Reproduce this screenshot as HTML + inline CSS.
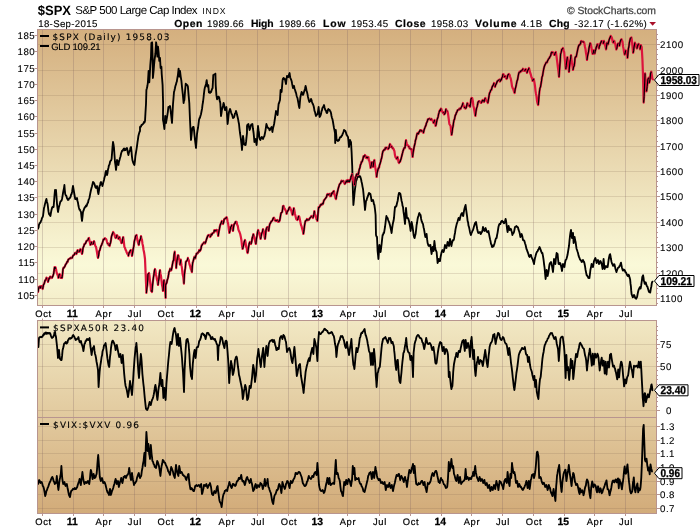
<!DOCTYPE html>
<html><head><meta charset="utf-8"><title>$SPX</title>
<style>
html,body{margin:0;padding:0;background:#fff;}
svg{display:block;font-family:"Liberation Sans",sans-serif;text-rendering:geometricPrecision;}
.ax{font-size:9.7px;letter-spacing:.5px;fill:#000;stroke:#000;stroke-width:.1px;}
.ax2{font-size:9.5px;fill:#000;stroke:#000;stroke-width:.15px;}
.mo{font-size:9.4px;letter-spacing:.7px;fill:#000;text-anchor:middle;stroke:#000;stroke-width:.2px;}
.yr{font-size:10.4px;font-weight:bold;fill:#000;text-anchor:middle;stroke:#000;stroke-width:.25px;}
.lg{font-family:"DejaVu Sans","Liberation Sans",sans-serif;font-size:8.9px;fill:#000;stroke:#000;stroke-width:.15px;}
.hb{font-size:10.4px;font-weight:bold;fill:#000;stroke:#000;stroke-width:.2px;}
.hn{font-size:9.7px;fill:#000;stroke:#000;stroke-width:.12px;}
.vl{font-size:11.4px;font-weight:bold;fill:#000;stroke:#000;stroke-width:.3px;}
</style></head><body>
<svg width="700" height="530" viewBox="0 0 700 530">
<defs>
<linearGradient id="bg" gradientUnits="userSpaceOnUse" x1="0" y1="29" x2="0" y2="514">
<stop offset="0" stop-color="rgb(212,175,126)"/>
<stop offset="0.4866" stop-color="rgb(250,249,216)"/>
<stop offset="1" stop-color="rgb(210,171,121)"/>
</linearGradient>
<clipPath id="c1"><rect x="37.5" y="29.5" width="619.0" height="276.0"/></clipPath>
<clipPath id="c2"><rect x="37.5" y="320.5" width="619.0" height="97.0"/></clipPath>
<clipPath id="c3"><rect x="37.5" y="417.5" width="619.0" height="96.0"/></clipPath>
</defs>
<rect width="700" height="530" fill="#fff"/>

<rect x="37.5" y="29.5" width="619.0" height="276.0" fill="url(#bg)"/>
<rect x="37.5" y="320.5" width="619.0" height="193.0" fill="url(#bg)"/>
<path d="M42.5,29.5V305.5M42.5,320.5V513.5M73.5,29.5V305.5M73.5,320.5V513.5M103.5,29.5V305.5M103.5,320.5V513.5M134.5,29.5V305.5M134.5,320.5V513.5M165.5,29.5V305.5M165.5,320.5V513.5M196.5,29.5V305.5M196.5,320.5V513.5M226.5,29.5V305.5M226.5,320.5V513.5M257.5,29.5V305.5M257.5,320.5V513.5M288.5,29.5V305.5M288.5,320.5V513.5M318.5,29.5V305.5M318.5,320.5V513.5M347.5,29.5V305.5M347.5,320.5V513.5M379.5,29.5V305.5M379.5,320.5V513.5M410.5,29.5V305.5M410.5,320.5V513.5M441.5,29.5V305.5M441.5,320.5V513.5M471.5,29.5V305.5M471.5,320.5V513.5M502.5,29.5V305.5M502.5,320.5V513.5M533.5,29.5V305.5M533.5,320.5V513.5M564.5,29.5V305.5M564.5,320.5V513.5M594.5,29.5V305.5M594.5,320.5V513.5M625.5,29.5V305.5M625.5,320.5V513.5" stroke="rgb(120,92,95)" stroke-opacity=".25" stroke-width="1" fill="none"/>
<path d="M37.5,298.5H656.5M37.5,273.5H656.5M37.5,247.5H656.5M37.5,222.5H656.5M37.5,196.5H656.5M37.5,171.5H656.5M37.5,146.5H656.5M37.5,120.5H656.5M37.5,95.5H656.5M37.5,70.5H656.5M37.5,44.5H656.5M37.5,410.5H656.5M37.5,388.5H656.5M37.5,366.5H656.5M37.5,344.5H656.5M37.5,508.5H656.5M37.5,494.5H656.5M37.5,481.5H656.5M37.5,467.5H656.5M37.5,453.5H656.5M37.5,440.5H656.5M37.5,426.5H656.5" stroke="rgb(125,100,80)" stroke-opacity=".19" stroke-width="1" fill="none"/>
<g clip-path="url(#c1)">
<path d="M37.6,229.0 L38.1,228.5 L38.6,227.3 L39.0,224.7 L39.5,223.5 L40.0,223.0 L40.5,222.4 L41.0,221.0 L41.5,219.8 L42.0,218.0 L42.5,217.3 L43.0,216.0 L43.5,212.2 L44.0,208.0 L44.5,206.3 L45.0,203.9 L45.4,202.5 L45.9,200.6 L46.4,199.0 L47.0,201.9 L47.6,204.0 L48.1,208.1 L48.5,211.4 L49.0,214.0 L49.5,214.7 L49.9,215.2 L50.4,216.0 L50.9,213.0 L51.5,209.9 L52.0,208.0 L52.5,206.9 L53.1,207.3 L53.6,207.0 L54.1,201.0 L54.5,195.5 L55.0,190.0 L55.5,190.6 L56.0,190.0 L56.5,197.0 L57.0,204.0 L57.5,208.1 L58.0,212.0 L58.5,209.3 L59.0,206.7 L59.5,205.0 L60.0,203.0 L60.5,201.4 L61.0,201.0 L61.5,200.8 L62.0,199.0 L62.5,196.3 L63.1,192.5 L63.6,190.0 L64.0,188.1 L64.4,185.0 L64.8,190.0 L65.2,194.0 L65.8,195.4 L66.4,196.0 L66.9,198.0 L67.5,199.1 L68.0,200.0 L68.5,199.8 L69.1,198.4 L69.6,198.0 L70.1,197.8 L70.6,196.7 L71.1,194.5 L71.6,194.0 L72.1,191.7 L72.5,189.0 L73.0,186.0 L73.5,188.9 L74.0,192.0 L74.6,195.5 L75.2,199.0 L75.7,198.7 L76.1,199.2 L76.5,198.3 L77.0,198.0 L77.5,201.0 L78.0,202.8 L78.5,206.1 L79.0,208.0 L79.5,209.6 L80.0,209.9 L80.5,211.1 L81.0,212.0 L81.5,217.2 L82.0,221.0 L82.5,216.9 L83.0,212.0 L83.5,210.7 L84.0,209.1 L84.5,208.0 L85.0,207.0 L85.5,206.8 L86.0,205.5 L86.5,206.2 L87.0,205.0 L87.5,203.1 L88.0,202.7 L88.5,200.2 L89.0,199.0 L89.5,197.5 L90.0,194.8 L90.5,192.3 L91.0,190.0 L91.5,188.0 L92.0,186.2 L92.5,184.1 L93.0,182.0 L93.5,182.4 L93.9,182.9 L94.4,184.0 L94.9,185.4 L95.5,187.4 L96.0,188.0 L96.5,187.2 L97.0,186.0 L97.5,188.0 L97.9,191.8 L98.4,194.0 L99.0,190.4 L99.6,186.0 L100.1,185.3 L100.5,182.8 L101.0,182.0 L101.5,183.7 L101.9,184.0 L102.4,186.0 L102.9,184.2 L103.5,181.6 L104.0,180.0 L104.5,177.3 L105.0,176.1 L105.5,172.6 L106.0,171.0 L106.5,173.0 L107.0,175.0 L107.5,173.2 L107.9,169.9 L108.4,168.0 L108.9,165.5 L109.5,164.6 L110.0,162.0 L110.5,160.9 L111.1,160.3 L111.6,159.0 L112.1,152.6 L112.5,147.4 L113.0,142.0 L113.5,144.5 L114.0,148.0 L114.5,155.3 L115.0,162.0 L115.5,165.3 L116.0,170.0 L116.5,165.7 L117.0,160.0 L117.5,160.9 L117.9,163.7 L118.4,165.0 L118.9,161.9 L119.5,159.9 L120.0,158.0 L120.5,156.5 L121.1,153.5 L121.6,152.0 L122.1,150.7 L122.6,150.8 L123.1,149.6 L123.6,149.0 L124.1,148.5 L124.6,150.3 L125.1,149.2 L125.6,150.0 L126.1,148.6 L126.5,148.4 L127.0,148.0 L127.5,150.5 L127.9,153.1 L128.4,155.0 L128.9,152.7 L129.5,151.4 L130.0,150.0 L130.5,147.7 L131.0,147.0 L131.5,151.3 L131.9,156.1 L132.4,160.0 L132.9,161.6 L133.4,163.1 L133.9,164.2 L134.4,165.0 L134.9,161.1 L135.4,156.0 L135.9,153.0 L136.5,149.3 L137.0,146.0 L137.5,142.2 L137.9,139.6 L138.4,136.0 L138.9,134.0 L139.5,132.0 L140.0,131.0 L140.0,127.0 L140.5,126.4 L141.0,126.6 L141.5,124.9 L142.0,125.1 L142.5,124.3 L143.0,124.0 L143.5,123.3 L144.0,121.9 L144.5,122.5 L145.0,121.0 L145.5,112.1 L146.0,104.0 L146.4,90.0 L146.9,88.2 L147.4,86.0 L147.9,82.3 L148.6,70.9 L149.3,82.3 L149.8,73.6 L150.3,65.1 L151.0,56.6 L151.4,43.0 L152.1,42.3 L152.6,56.6 L152.9,78.0 L153.6,70.9 L154.1,64.4 L154.6,59.4 L155.0,56.7 L155.4,53.7 L156.1,42.3 L156.9,48.0 L157.4,56.6 L158.0,46.6 L158.6,52.3 L159.3,60.9 L160.0,58.0 L160.6,68.0 L161.0,66.7 L161.4,66.6 L161.7,73.7 L162.1,78.7 L162.6,85.1 L163.1,103.0 L163.0,120.0 L163.5,122.3 L163.9,125.5 L164.4,129.0 L164.8,121.9 L165.2,116.0 L165.6,119.7 L166.0,123.0 L166.6,119.5 L167.2,116.0 L167.8,112.3 L168.4,107.0 L168.9,107.4 L169.5,107.1 L170.0,106.0 L170.5,109.6 L171.0,114.0 L171.5,118.4 L172.0,123.0 L172.5,113.1 L173.0,104.0 L173.5,98.1 L174.0,92.0 L174.5,90.2 L174.9,88.5 L175.4,86.0 L175.9,84.7 L176.5,82.3 L177.0,81.0 L176.9,80.9 L177.4,77.9 L177.9,75.1 L178.6,68.7 L179.0,72.7 L179.4,76.6 L180.0,70.9 L180.7,76.6 L181.4,80.9 L182.1,88.0 L182.9,95.1 L183.6,103.0 L184.0,100.7 L184.4,100.0 L185.0,91.8 L185.6,85.0 L185.7,83.7 L186.3,84.3 L186.9,85.1 L187.4,85.2 L187.9,86.6 L188.6,95.1 L189.3,103.0 L190.0,120.0 L190.5,130.4 L191.0,140.0 L191.5,135.6 L191.9,131.4 L192.4,128.0 L193.0,127.0 L193.6,127.0 L194.1,130.9 L194.5,135.2 L195.0,140.0 L195.5,144.0 L196.0,148.0 L196.5,140.9 L197.0,134.0 L197.5,130.7 L198.0,128.0 L198.5,124.2 L199.0,120.0 L199.5,118.2 L199.9,118.0 L200.4,116.0 L201.0,114.2 L201.6,111.0 L202.1,108.4 L202.5,104.9 L203.0,102.0 L203.5,98.0 L203.9,94.1 L204.4,90.0 L204.9,87.3 L205.5,85.9 L206.0,84.0 L206.7,80.1 L207.4,86.6 L207.9,85.9 L208.3,85.1 L208.9,92.3 L209.4,92.1 L210.0,93.0 L210.5,91.6 L211.0,92.1 L211.4,90.9 L212.0,89.2 L212.6,88.0 L213.3,75.1 L213.8,74.8 L214.3,74.4 L214.9,74.7 L215.4,73.7 L215.7,85.1 L216.4,95.1 L217.1,99.4 L217.7,98.2 L218.3,96.6 L218.8,96.9 L219.3,98.0 L219.8,101.3 L220.3,103.0 L221.0,116.0 L221.5,113.1 L221.9,109.9 L222.4,108.0 L223.0,105.8 L223.6,103.0 L224.1,104.7 L224.5,107.4 L225.0,110.0 L225.5,109.5 L225.9,108.3 L226.4,107.0 L227.0,114.7 L227.6,124.0 L228.1,119.9 L228.5,115.9 L229.0,112.0 L229.5,110.5 L230.0,109.0 L230.5,110.2 L231.1,112.5 L231.6,114.0 L232.1,114.7 L232.5,116.3 L233.0,118.0 L233.5,117.1 L233.9,117.4 L234.4,116.0 L234.9,113.7 L235.5,113.1 L236.0,111.0 L236.5,112.5 L237.1,115.1 L237.6,117.0 L238.1,119.2 L238.5,121.6 L239.0,124.0 L239.5,128.9 L240.0,133.0 L240.5,136.3 L241.0,140.0 L241.5,144.4 L242.0,150.0 L242.5,142.4 L243.0,136.0 L243.5,139.3 L244.0,144.0 L244.5,144.9 L245.1,144.9 L245.6,145.0 L246.1,141.7 L246.5,137.3 L247.0,133.0 L247.0,126.0 L247.5,124.6 L247.9,124.9 L248.4,124.0 L249.0,127.4 L249.6,130.0 L250.1,128.7 L250.5,126.7 L251.0,125.0 L251.5,124.4 L251.9,124.3 L252.4,124.0 L253.0,129.0 L253.6,133.0 L254.0,137.1 L254.4,142.0 L255.0,140.5 L255.6,139.0 L256.1,142.0 L256.6,145.0 L257.1,139.4 L257.5,132.8 L258.0,126.0 L258.0,126.0 L258.5,130.2 L259.0,133.0 L259.2,137.0 L259.8,139.0 L260.4,140.0 L261.0,138.2 L261.6,137.0 L262.1,137.2 L262.5,138.3 L263.0,139.0 L263.5,137.6 L263.9,136.9 L264.4,136.0 L265.0,133.0 L265.5,130.3 L265.9,127.7 L266.4,124.0 L266.9,125.5 L267.5,127.2 L268.0,128.0 L268.5,127.9 L269.0,128.8 L269.5,130.3 L270.0,130.0 L270.5,128.4 L271.1,127.9 L271.6,127.0 L272.0,128.8 L272.4,132.0 L273.0,128.3 L273.6,126.0 L274.1,124.0 L274.5,121.4 L275.0,118.0 L275.5,114.7 L276.0,111.0 L276.5,111.7 L277.1,113.3 L277.6,115.0 L278.1,109.1 L278.6,104.0 L279.1,102.9 L279.5,101.6 L280.0,100.0 L280.6,90.0 L281.1,90.9 L281.6,92.0 L282.1,86.0 L282.6,80.0 L283.1,78.4 L283.6,78.0 L284.1,78.4 L284.5,79.4 L285.0,79.0 L285.5,81.9 L286.0,84.0 L286.5,79.4 L287.0,76.0 L287.5,76.4 L287.9,77.0 L288.4,77.0 L289.0,74.6 L289.6,73.0 L290.0,76.1 L290.4,78.0 L291.0,79.4 L291.6,81.0 L292.1,83.7 L292.5,85.5 L293.0,88.0 L293.5,87.8 L294.0,86.0 L294.5,88.5 L295.1,90.1 L295.6,92.0 L296.1,93.1 L296.5,95.2 L297.0,97.0 L297.5,98.2 L298.0,101.0 L298.5,103.5 L298.9,106.3 L299.4,108.0 L299.9,102.0 L300.4,97.0 L301.0,94.5 L301.6,92.0 L302.1,93.0 L302.5,93.8 L303.0,95.0 L303.5,93.8 L304.0,92.0 L304.5,90.7 L305.1,88.3 L305.6,86.0 L306.1,88.0 L306.5,90.7 L307.0,92.0 L307.5,94.2 L308.0,97.0 L308.5,99.1 L308.9,100.6 L309.4,102.0 L309.9,101.4 L310.5,100.6 L311.0,99.0 L311.5,100.1 L312.0,102.0 L312.5,103.5 L313.1,104.5 L313.6,106.0 L314.1,108.3 L314.5,110.8 L315.0,112.0 L315.5,114.2 L316.0,116.0 L316.5,114.6 L317.1,114.6 L317.6,114.0 L318.1,110.8 L318.6,107.0 L319.1,112.6 L319.6,117.0 L320.1,116.2 L320.5,115.5 L321.0,114.0 L321.5,111.2 L321.9,110.7 L322.4,108.0 L322.9,107.4 L323.5,106.2 L324.0,105.0 L324.5,107.3 L324.9,108.9 L325.4,110.0 L325.9,110.4 L326.5,112.5 L327.0,113.0 L327.5,112.1 L327.9,109.9 L328.4,109.0 L329.0,109.9 L329.6,110.0 L330.1,111.1 L330.5,111.5 L331.0,113.0 L331.5,116.0 L332.0,118.0 L332.5,119.4 L333.0,122.0 L333.5,125.2 L334.0,128.0 L334.5,130.4 L335.0,133.0 L335.2,143.0 L335.8,130.0 L336.2,134.6 L336.6,140.0 L337.1,140.4 L337.5,140.6 L338.0,141.0 L338.5,139.9 L338.9,140.4 L339.4,139.0 L339.9,137.6 L340.5,136.9 L341.0,137.0 L341.5,136.0 L342.1,135.5 L342.6,134.0 L343.1,132.9 L343.5,131.7 L344.0,130.0 L344.5,130.3 L344.9,130.9 L345.4,131.0 L346.0,132.7 L346.6,135.0 L347.1,135.3 L347.5,136.3 L348.0,137.0 L348.5,141.2 L349.0,147.0 L349.5,142.8 L350.0,140.0 L350.5,141.4 L351.0,142.0 L351.6,152.0 L352.2,166.0 L352.6,180.0 L353.0,194.0 L353.4,205.0 L354.0,199.0 L354.5,193.5 L355.0,189.0 L355.5,185.4 L356.0,181.0 L356.5,180.1 L357.1,178.2 L357.6,177.0 L358.1,176.9 L358.5,176.8 L359.0,176.0 L359.5,176.9 L359.9,176.1 L360.4,177.0 L361.0,179.0 L361.6,182.0 L362.1,184.1 L362.5,186.6 L363.0,189.0 L363.5,193.7 L364.0,199.0 L364.5,203.7 L365.0,210.0 L365.5,205.6 L366.0,201.0 L366.5,200.4 L367.1,198.1 L367.6,197.0 L368.1,195.7 L368.5,194.1 L369.0,193.0 L369.5,193.2 L369.9,194.3 L370.4,194.0 L371.0,197.2 L371.6,201.0 L372.1,200.9 L372.5,200.3 L373.0,200.0 L373.5,201.7 L373.9,204.0 L374.4,205.0 L375.0,209.3 L375.6,215.0 L376.0,235.0 L376.5,236.5 L377.0,237.0 L377.6,251.0 L378.0,254.7 L378.4,259.0 L378.9,252.2 L379.4,245.0 L380.0,249.0 L380.6,252.0 L381.1,248.2 L381.6,244.0 L382.1,239.3 L382.6,235.0 L383.1,234.9 L383.5,233.0 L384.0,233.0 L384.5,230.2 L385.0,227.0 L385.5,223.2 L385.9,219.7 L386.4,216.0 L387.0,217.6 L387.6,218.0 L388.1,219.8 L388.5,220.9 L389.0,222.0 L389.5,223.4 L389.9,224.9 L390.4,227.0 L391.0,229.9 L391.6,233.0 L392.1,228.6 L392.6,225.0 L393.1,222.3 L393.5,221.1 L394.0,218.0 L394.5,211.9 L395.0,207.0 L395.5,207.2 L395.9,206.1 L396.4,206.0 L397.0,203.3 L397.6,201.0 L398.1,198.0 L398.5,195.0 L399.0,193.0 L399.5,193.3 L399.9,193.1 L400.4,194.0 L401.0,197.4 L401.6,201.0 L402.1,202.7 L402.5,205.6 L403.0,207.0 L403.5,211.7 L404.0,215.0 L404.5,219.4 L405.0,224.0 L405.5,216.2 L406.0,208.0 L406.5,213.7 L407.0,218.0 L407.5,218.1 L407.9,218.0 L408.4,219.0 L409.0,221.1 L409.6,224.0 L410.1,227.0 L410.6,231.0 L411.1,226.8 L411.6,222.0 L412.1,224.3 L412.6,227.0 L413.1,230.8 L413.6,235.0 L414.1,237.0 L414.6,238.0 L415.1,235.6 L415.6,234.0 L416.1,230.0 L416.6,225.0 L417.1,222.5 L417.5,219.5 L418.0,217.0 L418.5,216.2 L418.9,214.1 L419.4,213.0 L420.0,214.6 L420.6,215.0 L421.1,218.7 L421.6,221.0 L422.1,222.0 L422.5,223.3 L423.0,224.0 L423.5,227.2 L424.0,229.0 L424.5,232.1 L424.9,234.7 L425.4,237.0 L426.0,236.1 L426.6,234.0 L427.1,239.2 L427.6,243.0 L428.1,244.4 L428.5,245.8 L429.0,246.0 L429.5,245.3 L429.9,245.5 L430.4,245.0 L431.0,249.8 L431.6,254.0 L432.1,250.3 L432.6,247.0 L433.1,248.8 L433.6,251.0 L434.0,245.5 L434.4,241.0 L435.0,246.2 L435.6,250.0 L436.1,250.8 L436.6,252.0 L437.1,257.5 L437.6,263.0 L438.1,261.6 L438.6,259.0 L439.1,259.2 L439.5,261.1 L440.0,261.0 L440.5,257.4 L441.0,255.0 L441.5,252.6 L441.9,251.4 L442.4,250.0 L443.0,250.8 L443.6,252.0 L444.1,250.3 L444.5,247.9 L445.0,245.0 L445.5,246.4 L445.9,246.9 L446.4,248.0 L447.0,245.1 L447.6,242.0 L448.1,242.9 L448.5,245.2 L449.0,246.0 L449.5,242.3 L450.0,239.0 L450.5,241.0 L450.9,243.9 L451.4,246.0 L452.0,242.9 L452.6,241.0 L453.1,240.0 L453.5,240.3 L454.0,239.0 L454.5,235.4 L455.0,233.0 L455.5,229.4 L456.0,227.0 L456.5,224.9 L456.9,223.3 L457.4,222.0 L458.0,219.9 L458.6,218.0 L459.1,218.6 L459.6,220.0 L460.1,217.7 L460.6,216.0 L461.1,214.6 L461.5,213.6 L462.0,213.0 L462.6,214.7 L463.2,216.0 L463.8,212.2 L464.4,209.0 L465.0,206.8 L465.6,205.0 L466.1,209.4 L466.6,213.0 L467.1,216.3 L467.6,221.0 L468.1,222.4 L468.5,225.6 L469.0,227.0 L469.5,229.4 L470.0,232.0 L470.5,233.9 L471.0,235.0 L471.5,233.1 L471.9,232.4 L472.4,231.0 L473.0,230.1 L473.6,228.0 L474.1,226.1 L474.5,225.1 L475.0,223.0 L475.5,222.7 L476.0,222.0 L476.6,225.3 L477.2,229.0 L477.8,231.8 L478.4,233.0 L478.9,232.5 L479.5,232.3 L480.0,232.0 L480.6,234.0 L481.1,233.5 L481.5,232.4 L482.0,232.0 L482.5,230.0 L483.0,227.0 L483.5,228.5 L483.9,229.8 L484.4,231.0 L485.0,229.6 L485.6,228.0 L486.1,230.1 L486.5,231.4 L487.0,232.0 L487.5,232.2 L487.9,231.3 L488.4,231.0 L489.0,233.9 L489.6,237.0 L490.1,239.4 L490.5,240.9 L491.0,244.0 L491.5,244.4 L491.9,246.8 L492.4,247.0 L492.9,245.7 L493.5,246.4 L494.0,245.0 L494.5,243.6 L494.9,242.3 L495.4,240.0 L496.0,238.3 L496.6,238.0 L497.1,235.0 L497.5,233.1 L498.0,230.0 L498.5,226.7 L499.0,225.0 L499.5,224.0 L499.9,224.1 L500.4,224.0 L501.0,222.0 L501.6,221.0 L502.1,220.8 L502.5,221.9 L503.0,222.0 L503.5,221.7 L503.9,223.4 L504.4,223.0 L505.0,221.2 L505.6,219.0 L506.1,221.3 L506.6,225.0 L507.1,229.1 L507.6,232.0 L508.1,228.6 L508.6,226.0 L509.1,228.0 L509.6,230.0 L510.1,229.8 L510.5,228.8 L511.0,229.0 L511.5,231.0 L511.9,232.3 L512.4,235.0 L513.0,233.5 L513.6,233.0 L514.1,231.7 L514.5,229.5 L515.0,227.0 L515.5,226.7 L515.9,226.6 L516.4,226.0 L517.0,227.1 L517.6,227.0 L518.1,227.8 L518.5,229.7 L519.0,231.0 L519.5,232.4 L519.9,234.4 L520.4,237.0 L521.0,234.9 L521.6,234.0 L522.1,235.5 L522.5,237.3 L523.0,240.0 L523.5,239.9 L523.9,240.5 L524.4,241.0 L525.0,243.2 L525.6,245.0 L526.1,247.2 L526.5,249.0 L527.0,250.0 L527.5,251.7 L527.9,252.7 L528.4,254.0 L529.0,256.2 L529.6,257.0 L530.1,255.8 L530.5,255.0 L531.0,255.0 L531.5,256.8 L531.9,257.9 L532.4,259.0 L532.9,260.2 L533.5,262.1 L534.0,264.0 L534.5,260.7 L535.0,258.0 L535.5,256.2 L535.9,254.6 L536.4,253.0 L536.9,251.8 L537.5,251.5 L538.0,250.0 L538.5,249.5 L539.1,248.1 L539.6,247.0 L540.1,248.3 L540.5,249.3 L541.0,251.0 L541.5,252.1 L541.9,253.1 L542.4,253.0 L543.0,256.1 L543.6,260.0 L544.1,264.3 L544.6,268.0 L545.1,273.8 L545.6,279.0 L546.1,274.8 L546.6,270.0 L547.1,272.2 L547.6,276.0 L548.1,273.6 L548.6,271.0 L549.1,267.0 L549.6,264.0 L550.1,262.8 L550.5,262.8 L551.0,262.0 L551.5,264.2 L552.0,266.0 L552.5,269.2 L553.0,272.0 L553.5,265.9 L554.0,259.0 L554.5,261.0 L554.9,262.3 L555.4,264.0 L556.0,257.8 L556.6,253.0 L557.1,253.9 L557.6,254.0 L558.1,259.5 L558.6,264.0 L559.1,264.2 L559.5,263.5 L560.0,263.0 L560.5,263.8 L561.0,266.0 L561.5,268.0 L562.0,271.0 L562.5,266.9 L563.0,264.0 L563.5,265.2 L563.9,266.1 L564.4,267.0 L565.0,263.0 L565.6,260.0 L566.1,259.7 L566.5,258.8 L567.0,257.0 L567.5,255.1 L568.0,252.0 L568.5,248.9 L569.0,246.0 L569.5,240.7 L570.0,236.0 L570.5,232.5 L571.0,230.0 L571.5,234.5 L572.0,238.0 L572.5,235.8 L573.0,233.0 L573.6,243.0 L574.1,239.6 L574.6,237.0 L575.1,240.1 L575.6,242.0 L576.1,245.6 L576.6,249.0 L577.1,250.2 L577.5,251.5 L578.0,253.0 L578.5,255.4 L579.0,257.0 L579.5,257.9 L579.9,259.3 L580.4,260.0 L581.0,260.4 L581.6,262.0 L582.1,261.7 L582.5,260.3 L583.0,260.0 L583.5,261.7 L583.9,261.5 L584.4,263.0 L585.0,266.2 L585.6,270.0 L586.1,272.6 L586.6,275.0 L587.1,275.5 L587.5,276.4 L588.0,277.0 L588.5,278.0 L588.9,277.2 L589.4,278.0 L589.9,274.4 L590.4,270.0 L591.0,267.3 L591.6,264.0 L592.1,265.5 L592.5,265.9 L593.0,267.0 L593.5,263.9 L594.0,261.0 L594.5,259.8 L594.9,259.0 L595.4,258.0 L596.0,260.1 L596.6,263.0 L597.1,261.5 L597.5,261.0 L598.0,260.0 L598.5,261.5 L599.0,264.0 L599.5,263.0 L599.9,262.1 L600.4,261.0 L601.0,262.2 L601.6,264.0 L602.1,266.0 L602.6,269.0 L603.1,264.2 L603.6,259.0 L604.1,264.6 L604.6,269.0 L605.1,267.6 L605.5,267.2 L606.0,266.0 L606.5,266.6 L607.1,267.3 L607.6,267.0 L608.1,263.8 L608.6,260.0 L609.1,257.2 L609.6,255.0 L610.1,254.1 L610.5,256.0 L610.9,258.8 L611.5,261.7 L612.0,263.5 L612.5,264.4 L613.1,265.9 L613.5,264.5 L613.9,265.4 L614.4,264.3 L614.9,266.2 L615.5,269.0 L615.9,270.3 L616.4,272.1 L617.0,270.3 L617.5,269.0 L618.0,267.8 L618.6,267.4 L619.0,267.3 L619.4,266.1 L619.9,265.9 L620.4,264.2 L621.0,262.7 L621.4,264.9 L621.9,267.4 L622.5,269.5 L623.0,270.6 L623.4,269.5 L623.8,270.2 L624.3,269.8 L624.8,270.4 L625.4,272.1 L625.9,272.4 L626.5,273.7 L627.1,275.1 L627.7,276.1 L628.1,275.6 L628.6,274.8 L629.0,275.3 L629.5,277.4 L630.1,279.2 L630.5,283.4 L630.9,286.3 L631.2,290.4 L631.6,294.1 L632.2,295.7 L632.7,297.3 L633.2,297.0 L633.6,296.4 L634.0,294.9 L634.6,295.9 L635.2,298.1 L635.7,297.7 L636.1,298.8 L636.5,298.1 L637.1,296.8 L637.6,294.1 L638.2,291.3 L638.7,289.4 L639.3,288.6 L639.8,287.1 L640.2,288.5 L640.6,288.6 L641.1,286.0 L641.5,283.1 L641.9,280.3 L642.3,276.9 L642.7,276.1 L643.1,275.3 L643.5,277.6 L643.9,280.8 L644.3,281.9 L644.7,283.9 L645.2,282.4 L645.8,282.4 L646.3,284.6 L646.9,286.3 L647.4,286.5 L647.8,287.9 L648.4,290.0 L648.9,291.8 L649.6,292.0 L650.2,292.6 L650.6,290.1 L651.0,287.9 L651.4,286.2 L651.8,283.1 L652.1,282.2 L652.5,281.6" stroke="#000" stroke-width="1.85" fill="none" stroke-linejoin="round" stroke-linecap="round"/>
<path d="M38.0,292.0 L38.5,289.1 L39.0,287.0 L39.5,286.5 L39.9,288.0 L40.4,288.0 L41.0,286.0 L41.6,286.0 L42.1,287.6 L42.6,289.0 L43.1,287.0 L43.5,284.6 L44.0,284.0 L44.5,282.7 L45.1,280.2 L45.6,280.0 L46.1,279.2 L46.5,277.6 L47.0,278.0 L47.5,279.0 L48.0,282.0 L48.6,279.8 L49.2,278.0 L49.7,278.5 L50.1,276.6 L50.5,276.6 L51.0,277.0 L51.5,277.3 L51.9,278.1 L52.4,277.0 L53.0,275.7 L53.6,274.0 L54.1,270.3 L54.6,267.0 L55.1,268.8 L55.5,267.2 L56.0,269.0 L56.6,272.4 L57.2,274.0 L57.8,275.5 L58.4,278.0 L59.0,275.1 L59.6,274.0 L60.2,275.1 L60.8,278.0 L61.4,277.5 L62.0,278.0 L62.5,274.3 L63.0,269.0 L63.5,267.6 L63.9,267.9 L64.4,267.0 L64.9,266.3 L65.5,264.7 L66.0,264.0 L66.5,263.4 L67.1,261.6 L67.6,262.0 L68.1,259.9 L68.5,259.3 L69.0,259.0 L69.5,259.1 L69.9,258.2 L70.4,258.0 L70.9,257.6 L71.5,258.2 L72.0,258.0 L72.5,256.9 L73.1,255.5 L73.6,255.0 L74.1,255.0 L74.5,254.1 L75.0,253.0 L75.5,252.7 L75.9,253.8 L76.4,254.0 L77.0,252.1 L77.6,250.0 L78.1,251.6 L78.5,251.9 L79.0,252.0 L79.5,250.5 L79.9,251.2 L80.4,249.0 L80.9,249.8 L81.5,252.1 L82.0,254.0 L82.5,252.3 L82.9,248.5 L83.4,247.0 L83.9,246.0 L84.5,243.9 L85.0,244.0 L85.5,243.4 L85.9,242.6 L86.4,241.0 L87.0,240.7 L87.6,240.0 L88.1,240.2 L88.5,238.2 L89.0,238.0 L89.5,240.8 L89.9,242.9 L90.4,245.0 L91.0,243.7 L91.6,242.0 L92.1,242.6 L92.5,244.1 L93.0,244.0 L93.5,243.6 L94.0,241.0 L94.5,242.6 L94.9,244.7 L95.4,246.0 L96.0,246.9 L96.6,250.0 L97.1,253.2 L97.5,255.7 L98.0,258.0 L98.6,255.7 L99.2,251.0 L99.8,250.3 L100.4,248.0 L101.0,246.0 L101.6,245.0 L102.1,243.4 L102.5,242.7 L103.0,241.0 L103.5,239.2 L103.9,239.6 L104.4,239.0 L105.0,238.2 L105.6,239.0 L106.1,239.1 L106.5,239.9 L107.0,242.0 L107.5,243.6 L107.9,243.1 L108.4,245.0 L109.0,244.9 L109.6,246.0 L110.1,243.7 L110.5,242.9 L111.0,240.0 L111.5,236.5 L112.0,235.0 L112.6,233.4 L113.2,232.0 L113.8,233.1 L114.4,234.0 L115.0,236.9 L115.6,238.0 L116.1,237.8 L116.5,236.9 L117.0,235.0 L117.5,235.8 L117.9,237.5 L118.4,239.0 L119.0,237.7 L119.6,237.0 L120.2,239.9 L120.8,241.0 L121.4,243.1 L122.0,243.0 L122.6,239.2 L123.2,237.0 L123.8,241.2 L124.4,247.0 L125.0,247.9 L125.6,250.0 L126.1,250.4 L126.5,252.0 L127.0,253.0 L127.5,254.2 L127.9,254.4 L128.4,256.0 L129.0,252.8 L129.6,252.0 L130.2,250.8 L130.8,250.0 L131.4,252.7 L132.0,256.0 L132.6,252.7 L133.2,249.0 L133.8,246.1 L134.4,241.0 L135.0,239.0 L135.6,236.0 L136.1,235.5 L136.6,235.0 L137.1,238.3 L137.6,241.0 L138.2,243.4 L138.8,245.0 L139.4,241.4 L140.0,240.0 L140.5,239.0 L141.0,236.0 L141.5,238.7 L142.0,240.0 L142.5,243.9 L143.0,246.0 L143.5,249.7 L144.0,252.0 L144.5,255.2 L145.0,259.0 L145.6,273.0 L146.0,282.8 L146.4,293.0 L146.9,288.0 L147.4,285.0 L148.0,274.0 L148.5,273.8 L149.0,273.0 L149.5,275.9 L150.0,281.0 L150.5,285.0 L151.0,291.0 L151.5,290.8 L152.0,292.0 L152.5,285.7 L153.0,281.0 L153.5,277.1 L154.0,274.0 L154.5,270.4 L155.0,269.0 L155.5,270.8 L156.0,275.0 L156.5,276.7 L157.0,280.0 L157.5,281.5 L158.0,285.0 L158.5,281.2 L159.0,278.0 L159.5,272.9 L160.0,270.0 L160.5,273.9 L161.0,276.0 L161.5,280.8 L162.0,285.0 L162.5,287.2 L163.0,291.0 L163.5,284.9 L164.0,280.0 L164.5,284.1 L165.0,289.0 L165.6,298.0 L165.6,285.3 L166.1,283.8 L166.7,283.0 L167.3,279.8 L167.9,278.4 L168.4,275.8 L169.0,271.6 L169.6,271.3 L170.1,268.7 L170.7,269.5 L171.3,270.4 L171.9,267.5 L172.4,264.7 L173.0,261.4 L173.6,260.1 L174.1,254.9 L174.7,251.6 L175.1,254.9 L175.5,259.0 L176.2,268.1 L176.6,263.6 L177.0,260.1 L177.6,258.4 L178.1,255.0 L178.5,255.6 L178.9,257.9 L179.4,260.1 L179.9,264.7 L180.3,263.2 L180.8,259.6 L181.2,262.8 L181.6,265.9 L182.0,268.4 L182.4,272.7 L182.8,275.1 L183.3,277.3 L183.9,283.6 L184.4,275.0 L184.9,270.4 L185.3,268.1 L185.8,261.9 L186.3,261.4 L186.7,260.7 L187.3,260.4 L187.9,257.9 L188.3,259.9 L188.8,260.1 L189.2,262.9 L189.6,264.7 L190.1,266.1 L190.7,268.7 L191.3,270.1 L191.9,272.1 L192.3,266.5 L192.7,262.4 L193.1,261.7 L193.6,259.6 L194.0,258.2 L194.5,256.7 L194.9,258.2 L195.3,258.4 L195.7,256.3 L196.1,255.0 L196.5,253.5 L197.0,253.3 L197.6,253.5 L198.1,252.1 L198.7,252.2 L199.3,249.9 L199.9,251.0 L200.4,250.4 L201.0,248.6 L201.6,245.3 L202.1,245.2 L202.7,243.6 L203.3,243.6 L203.9,242.4 L204.4,242.3 L205.0,243.6 L205.6,242.2 L206.1,240.7 L206.7,238.7 L207.3,237.3 L207.9,235.3 L208.4,235.6 L208.9,234.8 L209.3,235.8 L209.8,236.1 L210.2,237.0 L210.8,236.0 L211.4,234.0 L211.9,234.8 L212.5,233.2 L213.0,233.0 L213.5,233.0 L213.9,232.2 L214.4,230.0 L214.9,231.4 L215.3,230.3 L215.8,231.0 L216.4,229.8 L217.0,230.0 L217.6,232.3 L218.2,236.0 L218.8,231.8 L219.4,229.0 L220.0,225.8 L220.6,224.0 L221.2,222.8 L221.8,221.0 L222.4,223.5 L223.0,224.0 L223.6,222.3 L224.2,219.0 L224.7,218.6 L225.1,218.7 L225.6,218.0 L226.1,218.7 L226.5,217.0 L227.0,218.0 L227.6,221.4 L228.2,224.0 L228.8,229.5 L229.4,233.0 L230.0,230.7 L230.6,227.0 L231.2,226.6 L231.8,225.0 L232.4,227.9 L233.0,231.0 L233.6,226.7 L234.2,224.0 L234.8,223.7 L235.4,222.0 L236.0,221.6 L236.6,222.0 L237.2,224.7 L237.8,226.0 L238.4,229.6 L239.0,231.0 L239.6,232.3 L240.2,234.0 L240.8,236.8 L241.4,240.0 L242.0,245.6 L242.6,249.0 L243.2,247.0 L243.8,244.0 L244.4,241.2 L245.0,240.0 L245.6,242.6 L246.2,247.0 L246.7,248.2 L247.1,252.0 L247.6,253.0 L248.1,250.7 L248.6,247.0 L249.2,243.7 L249.8,242.0 L250.4,243.8 L251.0,244.0 L251.6,242.2 L252.2,238.0 L252.8,236.4 L253.4,234.0 L254.0,236.1 L254.6,239.0 L255.2,241.6 L255.8,244.0 L256.4,239.1 L257.0,236.0 L257.6,231.8 L258.2,230.0 L258.8,232.6 L259.4,233.0 L260.0,236.4 L260.6,239.0 L261.2,236.1 L261.8,233.0 L262.4,232.0 L263.0,229.0 L263.6,231.3 L264.2,234.0 L264.6,237.4 L265.0,239.0 L265.5,235.3 L266.0,230.0 L266.5,228.3 L266.9,227.4 L267.4,227.0 L268.0,228.5 L268.6,231.0 L269.2,226.9 L269.8,224.0 L270.4,223.2 L271.0,222.0 L271.6,220.9 L272.2,221.0 L272.8,219.3 L273.4,218.0 L274.0,217.6 L274.6,219.0 L275.1,220.7 L275.5,220.0 L276.0,221.0 L276.5,220.6 L276.9,220.5 L277.4,220.0 L278.0,222.0 L278.6,222.0 L279.1,220.8 L279.5,221.0 L280.0,219.0 L280.5,216.0 L281.0,213.0 L281.6,212.6 L282.2,212.0 L282.6,209.1 L283.0,206.0 L283.6,205.8 L284.2,208.0 L284.8,208.9 L285.4,210.0 L286.0,211.2 L286.6,214.0 L287.2,211.3 L287.8,211.0 L288.4,210.2 L289.0,208.0 L289.6,207.2 L290.2,208.0 L290.8,209.4 L291.4,211.0 L292.0,213.5 L292.6,215.0 L293.2,211.6 L293.8,208.0 L294.4,210.6 L295.0,214.0 L295.6,216.5 L296.2,219.0 L296.8,219.6 L297.4,220.0 L298.0,218.7 L298.6,216.0 L299.2,216.6 L299.8,219.0 L300.4,222.1 L301.0,225.0 L301.6,226.4 L302.2,229.0 L302.8,231.0 L303.4,234.0 L304.0,230.2 L304.6,225.0 L305.0,223.0 L305.4,221.0 L305.9,220.5 L306.5,220.3 L307.0,219.0 L307.5,220.3 L308.1,219.5 L308.6,220.0 L309.1,219.6 L309.5,218.7 L310.0,218.0 L310.5,217.4 L310.9,217.1 L311.4,216.0 L311.9,216.6 L312.5,217.4 L313.0,218.0 L313.5,215.6 L313.9,214.4 L314.4,211.0 L314.9,213.5 L315.5,215.9 L316.0,217.0 L316.5,219.4 L316.9,219.1 L317.4,221.0 L318.0,214.1 L318.6,207.0 L319.1,207.7 L319.5,207.1 L320.0,206.0 L320.5,204.8 L320.9,204.4 L321.4,205.0 L321.9,204.5 L322.5,203.3 L323.0,204.0 L323.5,202.0 L323.9,200.3 L324.4,200.0 L325.0,199.0 L325.5,198.4 L326.0,197.7 L326.5,197.0 L327.0,195.0 L327.5,193.9 L328.0,195.0 L328.5,194.6 L329.0,194.0 L329.5,193.8 L330.1,196.3 L330.6,196.0 L331.1,196.1 L331.5,193.3 L332.0,193.0 L332.5,193.6 L333.0,191.8 L333.5,191.5 L334.0,191.0 L334.5,194.7 L335.0,196.0 L335.5,198.3 L336.0,199.0 L336.5,195.9 L336.9,194.2 L337.4,192.0 L337.9,190.0 L338.5,187.6 L339.0,186.0 L339.5,184.3 L340.0,183.6 L340.5,183.5 L341.0,182.0 L341.5,180.6 L342.0,181.6 L342.5,181.1 L343.0,181.0 L343.5,180.8 L344.1,182.6 L344.6,184.0 L345.1,183.6 L345.5,182.7 L346.0,182.0 L346.5,180.5 L347.0,182.2 L347.5,181.2 L348.0,180.0 L348.5,181.8 L348.9,180.4 L349.4,182.0 L350.0,179.9 L350.6,179.0 L351.1,176.2 L351.5,176.3 L352.0,174.0 L352.5,176.4 L353.0,180.0 L353.5,180.8 L353.9,183.1 L354.4,185.0 L354.9,182.0 L355.4,177.0 L355.9,176.8 L356.5,174.4 L357.0,174.0 L357.5,173.7 L358.0,175.0 L358.5,174.0 L358.9,171.2 L359.4,169.0 L359.9,167.8 L360.5,164.7 L361.0,164.0 L361.5,161.6 L362.1,161.8 L362.6,160.0 L363.1,158.5 L363.5,156.3 L364.0,156.0 L364.5,156.6 L365.0,155.0 L365.5,156.3 L365.9,157.7 L366.4,158.0 L366.9,156.7 L367.5,158.2 L368.0,157.0 L368.5,157.3 L368.9,160.5 L369.4,161.0 L370.0,164.4 L370.6,168.0 L371.1,165.6 L371.5,164.1 L372.0,162.0 L372.5,165.5 L373.0,167.0 L373.5,164.1 L373.9,161.4 L374.4,160.0 L374.9,164.1 L375.4,168.0 L376.0,171.9 L376.6,177.0 L377.1,173.1 L377.6,171.0 L378.1,169.2 L378.5,167.9 L379.0,168.0 L379.5,165.3 L380.1,163.5 L380.6,162.0 L381.1,159.5 L381.5,158.6 L382.0,156.0 L382.5,153.0 L383.0,151.0 L383.5,150.7 L384.1,149.6 L384.6,150.0 L385.1,149.0 L385.5,147.5 L386.0,148.0 L386.5,147.7 L386.9,147.5 L387.4,149.0 L387.9,149.2 L388.5,148.5 L389.0,148.0 L389.5,145.3 L390.0,144.0 L390.5,144.9 L390.9,147.0 L391.4,147.0 L391.9,146.4 L392.5,148.4 L393.0,148.0 L393.5,148.8 L393.9,150.0 L394.4,151.0 L394.9,154.8 L395.4,157.0 L396.0,157.7 L396.6,159.0 L397.1,158.0 L397.6,157.0 L398.1,159.5 L398.5,162.2 L399.0,163.0 L399.5,161.6 L400.1,161.8 L400.6,160.0 L401.1,158.8 L401.5,157.0 L402.0,155.0 L402.5,153.1 L402.9,151.3 L403.4,150.0 L403.9,148.3 L404.5,147.8 L405.0,148.0 L405.5,143.0 L406.0,140.0 L406.5,143.1 L407.0,145.0 L407.5,145.1 L408.1,145.5 L408.6,147.0 L409.1,146.3 L409.5,148.5 L410.0,148.0 L410.5,149.2 L410.9,149.1 L411.4,149.0 L412.0,152.5 L412.6,157.0 L413.1,152.9 L413.6,150.0 L414.1,147.0 L414.6,145.0 L415.1,142.9 L415.5,140.2 L416.0,139.0 L416.5,136.4 L417.0,134.0 L417.5,132.9 L418.0,134.1 L418.5,133.6 L419.0,132.0 L419.5,131.4 L420.1,130.1 L420.6,130.0 L421.1,131.5 L421.5,130.2 L422.0,131.0 L422.5,131.3 L422.9,131.1 L423.4,133.0 L423.9,130.7 L424.4,129.0 L424.9,127.6 L425.5,126.3 L426.0,125.0 L426.5,122.9 L426.9,122.3 L427.4,121.0 L427.9,119.1 L428.5,119.1 L429.0,119.0 L429.5,118.3 L430.1,119.4 L430.6,120.0 L431.1,118.9 L431.5,118.9 L432.0,120.0 L432.5,120.5 L432.9,121.4 L433.4,123.0 L434.0,121.7 L434.6,120.0 L435.1,123.1 L435.6,126.0 L436.1,124.6 L436.5,122.4 L437.0,120.0 L437.5,118.5 L438.1,116.9 L438.6,114.0 L439.1,112.4 L439.5,110.9 L440.0,110.0 L440.5,110.8 L440.9,108.5 L441.4,109.0 L441.9,110.9 L442.5,112.0 L443.0,113.0 L443.5,112.2 L444.1,114.5 L444.6,114.0 L445.1,113.3 L445.5,111.0 L446.0,109.0 L446.5,110.2 L446.9,111.1 L447.4,111.0 L448.0,113.6 L448.6,118.0 L449.0,121.1 L449.4,124.0 L450.0,125.0 L450.6,126.0 L451.1,131.3 L451.6,135.0 L452.1,132.2 L452.6,128.0 L453.1,126.1 L453.5,122.9 L454.0,120.0 L454.5,119.3 L454.9,117.1 L455.4,115.0 L455.9,114.5 L456.5,112.4 L457.0,112.0 L457.5,110.2 L458.1,109.8 L458.6,110.0 L459.1,109.3 L459.5,108.4 L460.0,109.0 L460.5,109.1 L460.9,107.8 L461.4,107.0 L461.9,106.0 L462.5,104.6 L463.0,103.0 L463.5,105.1 L463.9,106.3 L464.4,108.0 L464.9,106.8 L465.5,108.7 L466.0,108.0 L466.5,106.9 L466.9,104.7 L467.4,103.0 L468.0,104.1 L468.6,105.0 L469.1,106.0 L469.5,105.3 L470.0,107.0 L470.5,103.6 L471.0,99.0 L471.6,97.9 L472.2,98.0 L472.8,101.0 L473.4,106.0 L474.0,108.4 L474.6,112.0 L475.0,114.6 L475.4,116.0 L476.0,111.3 L476.6,108.0 L477.1,106.6 L477.5,105.1 L478.0,102.0 L478.5,101.7 L478.9,101.1 L479.4,101.0 L479.9,101.6 L480.5,102.8 L481.0,103.0 L481.5,102.6 L482.1,101.3 L482.6,100.0 L483.1,101.0 L483.5,100.3 L484.0,102.0 L484.5,99.8 L484.9,98.7 L485.4,98.0 L486.0,100.1 L486.6,101.0 L487.2,101.5 L487.8,103.0 L488.4,99.7 L489.0,96.0 L489.6,92.8 L490.2,92.0 L490.8,89.9 L491.4,90.0 L492.0,87.4 L492.6,86.0 L493.1,85.4 L493.5,84.5 L494.0,83.0 L494.5,85.4 L495.0,87.0 L495.6,85.0 L496.2,84.0 L496.8,82.5 L497.4,81.0 L497.9,80.6 L498.5,80.3 L499.0,80.0 L499.5,79.4 L499.9,81.6 L500.4,81.0 L500.9,79.3 L501.3,80.1 L501.8,78.0 L502.4,77.0 L503.0,74.0 L503.6,74.3 L504.2,77.0 L504.8,76.4 L505.4,76.0 L506.0,78.3 L506.6,79.0 L507.2,78.1 L507.8,75.0 L508.4,74.4 L509.0,74.0 L509.6,74.9 L510.2,77.0 L510.8,78.8 L511.4,82.0 L512.0,86.1 L512.6,88.0 L513.2,88.8 L513.8,91.0 L514.2,92.2 L514.6,93.0 L515.2,89.1 L515.8,87.0 L516.4,84.1 L517.0,81.0 L517.6,79.6 L518.2,76.0 L518.8,73.1 L519.4,72.0 L520.0,72.3 L520.6,71.0 L521.1,70.7 L521.5,71.3 L522.0,70.0 L522.5,70.2 L522.9,68.7 L523.4,69.0 L524.0,71.0 L524.6,71.0 L525.2,70.0 L525.8,69.0 L526.4,69.9 L527.0,73.0 L527.6,70.3 L528.2,70.0 L528.6,69.0 L529.0,68.0 L529.6,70.4 L530.2,73.0 L530.8,74.5 L531.4,77.0 L532.0,78.1 L532.6,81.0 L533.2,79.6 L533.8,79.0 L534.4,82.1 L535.0,86.0 L535.5,90.8 L536.0,94.0 L536.5,96.3 L537.0,101.0 L537.6,103.6 L538.2,105.0 L538.6,101.3 L539.0,96.0 L539.5,91.1 L540.0,88.0 L540.5,87.0 L541.0,84.0 L541.5,81.0 L542.0,77.0 L542.5,76.0 L543.0,73.0 L543.6,69.5 L544.2,67.0 L544.8,65.2 L545.4,64.0 L546.0,62.7 L546.6,62.0 L547.1,62.5 L547.5,60.9 L548.0,60.0 L548.5,59.0 L548.9,58.5 L549.4,58.0 L550.0,56.5 L550.6,56.0 L551.1,53.6 L551.5,52.4 L552.0,52.0 L552.5,53.1 L552.9,52.2 L553.4,53.0 L554.0,55.0 L554.6,55.0 L555.2,52.9 L555.8,52.0 L556.4,55.4 L557.0,60.0 L557.5,64.0 L558.0,68.0 L558.5,71.8 L559.0,77.0 L559.4,71.2 L559.8,66.0 L560.2,61.1 L560.6,54.0 L561.2,52.4 L561.8,49.0 L562.4,49.2 L563.0,48.0 L563.6,50.3 L564.2,52.0 L564.6,57.5 L565.0,61.0 L565.4,66.1 L565.8,69.0 L566.2,65.6 L566.6,62.0 L567.0,60.0 L567.4,57.0 L567.8,59.4 L568.2,64.0 L568.6,68.6 L569.0,72.0 L569.5,66.9 L570.0,62.0 L570.5,59.1 L571.0,55.0 L571.5,59.3 L572.0,63.0 L572.5,66.0 L573.0,70.0 L573.6,66.9 L574.2,66.0 L574.6,63.0 L575.0,58.0 L575.6,56.6 L576.2,57.0 L576.8,53.9 L577.4,51.0 L578.0,48.1 L578.6,46.0 L579.1,44.8 L579.5,45.2 L580.0,44.0 L580.5,44.1 L580.9,41.4 L581.4,41.0 L582.0,41.9 L582.6,42.0 L583.1,41.5 L583.5,42.1 L584.0,42.0 L584.5,44.2 L585.0,47.0 L585.5,49.2 L586.0,53.0 L586.5,55.7 L587.0,60.0 L587.5,56.3 L588.0,54.0 L588.5,52.0 L589.0,48.0 L589.6,45.5 L590.2,43.0 L590.8,44.3 L591.4,47.0 L592.0,51.5 L592.6,54.0 L593.2,53.2 L593.8,50.0 L594.3,51.7 L594.7,53.7 L595.3,50.7 L595.8,49.4 L596.3,47.0 L596.8,46.0 L597.4,44.2 L598.0,44.3 L598.4,46.1 L598.9,48.6 L599.4,45.9 L599.9,45.1 L600.4,43.2 L600.9,42.6 L601.4,41.1 L601.9,40.9 L602.5,42.3 L603.0,43.4 L603.5,43.1 L604.0,40.9 L604.5,43.6 L605.0,45.1 L605.5,47.1 L606.1,49.4 L606.6,45.8 L607.1,42.6 L607.6,43.5 L608.1,44.3 L608.6,41.8 L609.1,40.0 L609.7,38.3 L610.2,37.4 L610.7,35.9 L611.2,36.6 L611.7,37.3 L612.2,39.1 L612.7,42.0 L613.3,42.6 L613.8,40.8 L614.3,40.9 L614.8,42.6 L615.3,44.3 L615.8,47.2 L616.3,49.4 L616.9,48.2 L617.4,45.1 L617.9,43.6 L618.4,43.4 L618.9,44.2 L619.4,46.0 L619.9,42.8 L620.5,40.9 L621.0,39.8 L621.5,39.1 L622.0,40.3 L622.5,41.7 L623.0,46.2 L623.5,48.6 L624.1,52.4 L624.6,54.6 L625.1,53.3 L625.6,50.3 L626.1,50.9 L626.6,53.7 L627.1,54.7 L627.5,58.0 L627.9,53.8 L628.4,48.6 L628.9,46.5 L629.4,42.6 L629.9,40.4 L630.4,38.3 L630.9,38.1 L631.4,37.4 L631.9,40.1 L632.3,45.1 L632.7,48.7 L633.1,52.9 L633.6,50.9 L634.0,46.9 L634.4,45.5 L634.9,42.6 L635.4,44.3 L635.9,44.3 L636.4,47.6 L636.9,48.6 L637.4,46.3 L638.0,45.1 L638.5,43.8 L639.0,44.3 L639.5,46.0 L640.0,49.4 L640.4,47.3 L640.9,45.1 L641.3,46.4 L641.7,46.9 L642.4,58.9 L642.9,72.6 L643.3,88.0 L643.6,102.6 L644.1,96.6 L644.6,84.6 L645.1,73.4 L645.8,82.9 L646.5,91.4 L647.2,86.3 L647.9,79.4 L648.6,77.7 L649.3,82.9 L650.0,79.4 L650.6,73.4 L651.3,71.7 L652.0,76.0 L652.4,78.8 L652.9,79.4" stroke="#dc143c" stroke-width="2.2" fill="none" stroke-linejoin="round" stroke-linecap="round"/>
<path d="M38.0,292.0L38.5,289.1M38.5,289.1L39.0,287.0M39.0,287.0L39.5,286.5M39.9,288.0L40.4,288.0M40.4,288.0L41.0,286.0M42.6,289.0L43.1,287.0M43.1,287.0L43.5,284.6M43.5,284.6L44.0,284.0M44.0,284.0L44.5,282.7M44.5,282.7L45.1,280.2M45.1,280.2L45.6,280.0M45.6,280.0L46.1,279.2M46.1,279.2L46.5,277.6M48.0,282.0L48.6,279.8M48.6,279.8L49.2,278.0M49.7,278.5L50.1,276.6M50.1,276.6L50.5,276.6M51.9,278.1L52.4,277.0M52.4,277.0L53.0,275.7M53.0,275.7L53.6,274.0M53.6,274.0L54.1,270.3M54.1,270.3L54.6,267.0M55.1,268.8L55.5,267.2M58.4,278.0L59.0,275.1M59.0,275.1L59.6,274.0M60.8,278.0L61.4,277.5M62.0,278.0L62.5,274.3M62.5,274.3L63.0,269.0M63.0,269.0L63.5,267.6M63.9,267.9L64.4,267.0M64.4,267.0L64.9,266.3M64.9,266.3L65.5,264.7M65.5,264.7L66.0,264.0M66.0,264.0L66.5,263.4M66.5,263.4L67.1,261.6M67.6,262.0L68.1,259.9M68.1,259.9L68.5,259.3M68.5,259.3L69.0,259.0M69.5,259.1L69.9,258.2M69.9,258.2L70.4,258.0M70.4,258.0L70.9,257.6M71.5,258.2L72.0,258.0M72.0,258.0L72.5,256.9M72.5,256.9L73.1,255.5M73.1,255.5L73.6,255.0M74.1,255.0L74.5,254.1M74.5,254.1L75.0,253.0M75.0,253.0L75.5,252.7M76.4,254.0L77.0,252.1M77.0,252.1L77.6,250.0M79.0,252.0L79.5,250.5M79.9,251.2L80.4,249.0M82.0,254.0L82.5,252.3M82.5,252.3L82.9,248.5M82.9,248.5L83.4,247.0M83.4,247.0L83.9,246.0M83.9,246.0L84.5,243.9M85.0,244.0L85.5,243.4M85.5,243.4L85.9,242.6M85.9,242.6L86.4,241.0M86.4,241.0L87.0,240.7M87.0,240.7L87.6,240.0M88.1,240.2L88.5,238.2M88.5,238.2L89.0,238.0M90.4,245.0L91.0,243.7M91.0,243.7L91.6,242.0M92.5,244.1L93.0,244.0M93.0,244.0L93.5,243.6M93.5,243.6L94.0,241.0M98.0,258.0L98.6,255.7M98.6,255.7L99.2,251.0M99.2,251.0L99.8,250.3M99.8,250.3L100.4,248.0M100.4,248.0L101.0,246.0M101.0,246.0L101.6,245.0M101.6,245.0L102.1,243.4M102.1,243.4L102.5,242.7M102.5,242.7L103.0,241.0M103.0,241.0L103.5,239.2M103.9,239.6L104.4,239.0M104.4,239.0L105.0,238.2M107.5,243.6L107.9,243.1M108.4,245.0L109.0,244.9M109.6,246.0L110.1,243.7M110.1,243.7L110.5,242.9M110.5,242.9L111.0,240.0M111.0,240.0L111.5,236.5M111.5,236.5L112.0,235.0M112.0,235.0L112.6,233.4M112.6,233.4L113.2,232.0M115.6,238.0L116.1,237.8M116.1,237.8L116.5,236.9M116.5,236.9L117.0,235.0M118.4,239.0L119.0,237.7M119.0,237.7L119.6,237.0M121.4,243.1L122.0,243.0M122.0,243.0L122.6,239.2M122.6,239.2L123.2,237.0M128.4,256.0L129.0,252.8M129.0,252.8L129.6,252.0M129.6,252.0L130.2,250.8M130.2,250.8L130.8,250.0M132.0,256.0L132.6,252.7M132.6,252.7L133.2,249.0M133.2,249.0L133.8,246.1M133.8,246.1L134.4,241.0M134.4,241.0L135.0,239.0M135.0,239.0L135.6,236.0M135.6,236.0L136.1,235.5M136.1,235.5L136.6,235.0M138.8,245.0L139.4,241.4M139.4,241.4L140.0,240.0M140.0,240.0L140.5,239.0M140.5,239.0L141.0,236.0M146.4,293.0L146.9,288.0M146.9,288.0L147.4,285.0M147.4,285.0L148.0,274.0M148.0,274.0L148.5,273.8M148.5,273.8L149.0,273.0M151.0,291.0L151.5,290.8M152.0,292.0L152.5,285.7M152.5,285.7L153.0,281.0M153.0,281.0L153.5,277.1M153.5,277.1L154.0,274.0M154.0,274.0L154.5,270.4M154.5,270.4L155.0,269.0M158.0,285.0L158.5,281.2M158.5,281.2L159.0,278.0M159.0,278.0L159.5,272.9M159.5,272.9L160.0,270.0M163.0,291.0L163.5,284.9M163.5,284.9L164.0,280.0M165.6,298.0L165.6,285.3M165.6,285.3L166.1,283.8M166.1,283.8L166.7,283.0M166.7,283.0L167.3,279.8M167.3,279.8L167.9,278.4M167.9,278.4L168.4,275.8M168.4,275.8L169.0,271.6M169.0,271.6L169.6,271.3M169.6,271.3L170.1,268.7M171.3,270.4L171.9,267.5M171.9,267.5L172.4,264.7M172.4,264.7L173.0,261.4M173.0,261.4L173.6,260.1M173.6,260.1L174.1,254.9M174.1,254.9L174.7,251.6M176.2,268.1L176.6,263.6M176.6,263.6L177.0,260.1M177.0,260.1L177.6,258.4M177.6,258.4L178.1,255.0M179.9,264.7L180.3,263.2M180.3,263.2L180.8,259.6M183.9,283.6L184.4,275.0M184.4,275.0L184.9,270.4M184.9,270.4L185.3,268.1M185.3,268.1L185.8,261.9M185.8,261.9L186.3,261.4M186.3,261.4L186.7,260.7M186.7,260.7L187.3,260.4M187.3,260.4L187.9,257.9M191.9,272.1L192.3,266.5M192.3,266.5L192.7,262.4M192.7,262.4L193.1,261.7M193.1,261.7L193.6,259.6M193.6,259.6L194.0,258.2M194.0,258.2L194.5,256.7M195.3,258.4L195.7,256.3M195.7,256.3L196.1,255.0M196.1,255.0L196.5,253.5M196.5,253.5L197.0,253.3M197.6,253.5L198.1,252.1M198.7,252.2L199.3,249.9M199.9,251.0L200.4,250.4M200.4,250.4L201.0,248.6M201.0,248.6L201.6,245.3M201.6,245.3L202.1,245.2M202.1,245.2L202.7,243.6M203.3,243.6L203.9,242.4M203.9,242.4L204.4,242.3M205.0,243.6L205.6,242.2M205.6,242.2L206.1,240.7M206.1,240.7L206.7,238.7M206.7,238.7L207.3,237.3M207.3,237.3L207.9,235.3M208.4,235.6L208.9,234.8M210.2,237.0L210.8,236.0M210.8,236.0L211.4,234.0M211.9,234.8L212.5,233.2M212.5,233.2L213.0,233.0M213.5,233.0L213.9,232.2M213.9,232.2L214.4,230.0M214.9,231.4L215.3,230.3M215.8,231.0L216.4,229.8M218.2,236.0L218.8,231.8M218.8,231.8L219.4,229.0M219.4,229.0L220.0,225.8M220.0,225.8L220.6,224.0M220.6,224.0L221.2,222.8M221.2,222.8L221.8,221.0M223.0,224.0L223.6,222.3M223.6,222.3L224.2,219.0M224.2,219.0L224.7,218.6M225.1,218.7L225.6,218.0M226.1,218.7L226.5,217.0M229.4,233.0L230.0,230.7M230.0,230.7L230.6,227.0M230.6,227.0L231.2,226.6M231.2,226.6L231.8,225.0M233.0,231.0L233.6,226.7M233.6,226.7L234.2,224.0M234.2,224.0L234.8,223.7M234.8,223.7L235.4,222.0M235.4,222.0L236.0,221.6M242.6,249.0L243.2,247.0M243.2,247.0L243.8,244.0M243.8,244.0L244.4,241.2M244.4,241.2L245.0,240.0M247.6,253.0L248.1,250.7M248.1,250.7L248.6,247.0M248.6,247.0L249.2,243.7M249.2,243.7L249.8,242.0M251.0,244.0L251.6,242.2M251.6,242.2L252.2,238.0M252.2,238.0L252.8,236.4M252.8,236.4L253.4,234.0M255.8,244.0L256.4,239.1M256.4,239.1L257.0,236.0M257.0,236.0L257.6,231.8M257.6,231.8L258.2,230.0M260.6,239.0L261.2,236.1M261.2,236.1L261.8,233.0M261.8,233.0L262.4,232.0M262.4,232.0L263.0,229.0M265.0,239.0L265.5,235.3M265.5,235.3L266.0,230.0M266.0,230.0L266.5,228.3M266.5,228.3L266.9,227.4M266.9,227.4L267.4,227.0M268.6,231.0L269.2,226.9M269.2,226.9L269.8,224.0M269.8,224.0L270.4,223.2M270.4,223.2L271.0,222.0M271.0,222.0L271.6,220.9M272.2,221.0L272.8,219.3M272.8,219.3L273.4,218.0M273.4,218.0L274.0,217.6M275.1,220.7L275.5,220.0M276.0,221.0L276.5,220.6M276.5,220.6L276.9,220.5M276.9,220.5L277.4,220.0M278.6,222.0L279.1,220.8M279.5,221.0L280.0,219.0M280.0,219.0L280.5,216.0M280.5,216.0L281.0,213.0M281.0,213.0L281.6,212.6M281.6,212.6L282.2,212.0M282.2,212.0L282.6,209.1M282.6,209.1L283.0,206.0M283.0,206.0L283.6,205.8M286.6,214.0L287.2,211.3M287.2,211.3L287.8,211.0M287.8,211.0L288.4,210.2M288.4,210.2L289.0,208.0M289.0,208.0L289.6,207.2M292.6,215.0L293.2,211.6M293.2,211.6L293.8,208.0M297.4,220.0L298.0,218.7M298.0,218.7L298.6,216.0M303.4,234.0L304.0,230.2M304.0,230.2L304.6,225.0M304.6,225.0L305.0,223.0M305.0,223.0L305.4,221.0M305.4,221.0L305.9,220.5M305.9,220.5L306.5,220.3M306.5,220.3L307.0,219.0M307.5,220.3L308.1,219.5M308.6,220.0L309.1,219.6M309.1,219.6L309.5,218.7M309.5,218.7L310.0,218.0M310.0,218.0L310.5,217.4M310.5,217.4L310.9,217.1M310.9,217.1L311.4,216.0M313.0,218.0L313.5,215.6M313.5,215.6L313.9,214.4M313.9,214.4L314.4,211.0M316.5,219.4L316.9,219.1M317.4,221.0L318.0,214.1M318.0,214.1L318.6,207.0M319.1,207.7L319.5,207.1M319.5,207.1L320.0,206.0M320.0,206.0L320.5,204.8M320.5,204.8L320.9,204.4M321.4,205.0L321.9,204.5M321.9,204.5L322.5,203.3M323.0,204.0L323.5,202.0M323.5,202.0L323.9,200.3M323.9,200.3L324.4,200.0M324.4,200.0L325.0,199.0M325.0,199.0L325.5,198.4M325.5,198.4L326.0,197.7M326.0,197.7L326.5,197.0M326.5,197.0L327.0,195.0M327.0,195.0L327.5,193.9M328.0,195.0L328.5,194.6M328.5,194.6L329.0,194.0M329.0,194.0L329.5,193.8M330.1,196.3L330.6,196.0M331.1,196.1L331.5,193.3M331.5,193.3L332.0,193.0M332.5,193.6L333.0,191.8M333.0,191.8L333.5,191.5M333.5,191.5L334.0,191.0M336.0,199.0L336.5,195.9M336.5,195.9L336.9,194.2M336.9,194.2L337.4,192.0M337.4,192.0L337.9,190.0M337.9,190.0L338.5,187.6M338.5,187.6L339.0,186.0M339.0,186.0L339.5,184.3M339.5,184.3L340.0,183.6M340.0,183.6L340.5,183.5M340.5,183.5L341.0,182.0M341.0,182.0L341.5,180.6M342.0,181.6L342.5,181.1M342.5,181.1L343.0,181.0M343.0,181.0L343.5,180.8M344.6,184.0L345.1,183.6M345.1,183.6L345.5,182.7M345.5,182.7L346.0,182.0M346.0,182.0L346.5,180.5M347.0,182.2L347.5,181.2M347.5,181.2L348.0,180.0M348.5,181.8L348.9,180.4M349.4,182.0L350.0,179.9M350.0,179.9L350.6,179.0M350.6,179.0L351.1,176.2M351.5,176.3L352.0,174.0M354.4,185.0L354.9,182.0M354.9,182.0L355.4,177.0M355.4,177.0L355.9,176.8M355.9,176.8L356.5,174.4M356.5,174.4L357.0,174.0M357.0,174.0L357.5,173.7M358.0,175.0L358.5,174.0M358.5,174.0L358.9,171.2M358.9,171.2L359.4,169.0M359.4,169.0L359.9,167.8M359.9,167.8L360.5,164.7M360.5,164.7L361.0,164.0M361.0,164.0L361.5,161.6M362.1,161.8L362.6,160.0M362.6,160.0L363.1,158.5M363.1,158.5L363.5,156.3M363.5,156.3L364.0,156.0M364.5,156.6L365.0,155.0M366.4,158.0L366.9,156.7M367.5,158.2L368.0,157.0M370.6,168.0L371.1,165.6M371.1,165.6L371.5,164.1M371.5,164.1L372.0,162.0M373.0,167.0L373.5,164.1M373.5,164.1L373.9,161.4M373.9,161.4L374.4,160.0M376.6,177.0L377.1,173.1M377.1,173.1L377.6,171.0M377.6,171.0L378.1,169.2M378.1,169.2L378.5,167.9M379.0,168.0L379.5,165.3M379.5,165.3L380.1,163.5M380.1,163.5L380.6,162.0M380.6,162.0L381.1,159.5M381.1,159.5L381.5,158.6M381.5,158.6L382.0,156.0M382.0,156.0L382.5,153.0M382.5,153.0L383.0,151.0M383.0,151.0L383.5,150.7M383.5,150.7L384.1,149.6M384.6,150.0L385.1,149.0M385.1,149.0L385.5,147.5M386.0,148.0L386.5,147.7M386.5,147.7L386.9,147.5M387.9,149.2L388.5,148.5M388.5,148.5L389.0,148.0M389.0,148.0L389.5,145.3M389.5,145.3L390.0,144.0M390.9,147.0L391.4,147.0M391.4,147.0L391.9,146.4M392.5,148.4L393.0,148.0M396.6,159.0L397.1,158.0M397.1,158.0L397.6,157.0M399.0,163.0L399.5,161.6M400.1,161.8L400.6,160.0M400.6,160.0L401.1,158.8M401.1,158.8L401.5,157.0M401.5,157.0L402.0,155.0M402.0,155.0L402.5,153.1M402.5,153.1L402.9,151.3M402.9,151.3L403.4,150.0M403.4,150.0L403.9,148.3M403.9,148.3L404.5,147.8M405.0,148.0L405.5,143.0M405.5,143.0L406.0,140.0M408.6,147.0L409.1,146.3M409.5,148.5L410.0,148.0M410.5,149.2L410.9,149.1M410.9,149.1L411.4,149.0M412.6,157.0L413.1,152.9M413.1,152.9L413.6,150.0M413.6,150.0L414.1,147.0M414.1,147.0L414.6,145.0M414.6,145.0L415.1,142.9M415.1,142.9L415.5,140.2M415.5,140.2L416.0,139.0M416.0,139.0L416.5,136.4M416.5,136.4L417.0,134.0M417.0,134.0L417.5,132.9M418.0,134.1L418.5,133.6M418.5,133.6L419.0,132.0M419.0,132.0L419.5,131.4M419.5,131.4L420.1,130.1M420.1,130.1L420.6,130.0M421.1,131.5L421.5,130.2M422.5,131.3L422.9,131.1M423.4,133.0L423.9,130.7M423.9,130.7L424.4,129.0M424.4,129.0L424.9,127.6M424.9,127.6L425.5,126.3M425.5,126.3L426.0,125.0M426.0,125.0L426.5,122.9M426.5,122.9L426.9,122.3M426.9,122.3L427.4,121.0M427.4,121.0L427.9,119.1M427.9,119.1L428.5,119.1M428.5,119.1L429.0,119.0M429.0,119.0L429.5,118.3M430.6,120.0L431.1,118.9M431.1,118.9L431.5,118.9M433.4,123.0L434.0,121.7M434.0,121.7L434.6,120.0M435.6,126.0L436.1,124.6M436.1,124.6L436.5,122.4M436.5,122.4L437.0,120.0M437.0,120.0L437.5,118.5M437.5,118.5L438.1,116.9M438.1,116.9L438.6,114.0M438.6,114.0L439.1,112.4M439.1,112.4L439.5,110.9M439.5,110.9L440.0,110.0M440.5,110.8L440.9,108.5M443.0,113.0L443.5,112.2M444.1,114.5L444.6,114.0M444.6,114.0L445.1,113.3M445.1,113.3L445.5,111.0M445.5,111.0L446.0,109.0M446.9,111.1L447.4,111.0M451.6,135.0L452.1,132.2M452.1,132.2L452.6,128.0M452.6,128.0L453.1,126.1M453.1,126.1L453.5,122.9M453.5,122.9L454.0,120.0M454.0,120.0L454.5,119.3M454.5,119.3L454.9,117.1M454.9,117.1L455.4,115.0M455.4,115.0L455.9,114.5M455.9,114.5L456.5,112.4M456.5,112.4L457.0,112.0M457.0,112.0L457.5,110.2M457.5,110.2L458.1,109.8M458.6,110.0L459.1,109.3M459.1,109.3L459.5,108.4M460.5,109.1L460.9,107.8M460.9,107.8L461.4,107.0M461.4,107.0L461.9,106.0M461.9,106.0L462.5,104.6M462.5,104.6L463.0,103.0M464.4,108.0L464.9,106.8M465.5,108.7L466.0,108.0M466.0,108.0L466.5,106.9M466.5,106.9L466.9,104.7M466.9,104.7L467.4,103.0M469.1,106.0L469.5,105.3M470.0,107.0L470.5,103.6M470.5,103.6L471.0,99.0M471.0,99.0L471.6,97.9M475.4,116.0L476.0,111.3M476.0,111.3L476.6,108.0M476.6,108.0L477.1,106.6M477.1,106.6L477.5,105.1M477.5,105.1L478.0,102.0M478.0,102.0L478.5,101.7M478.5,101.7L478.9,101.1M478.9,101.1L479.4,101.0M481.0,103.0L481.5,102.6M481.5,102.6L482.1,101.3M482.1,101.3L482.6,100.0M483.1,101.0L483.5,100.3M484.0,102.0L484.5,99.8M484.5,99.8L484.9,98.7M484.9,98.7L485.4,98.0M487.8,103.0L488.4,99.7M488.4,99.7L489.0,96.0M489.0,96.0L489.6,92.8M489.6,92.8L490.2,92.0M490.2,92.0L490.8,89.9M491.4,90.0L492.0,87.4M492.0,87.4L492.6,86.0M492.6,86.0L493.1,85.4M493.1,85.4L493.5,84.5M493.5,84.5L494.0,83.0M495.0,87.0L495.6,85.0M495.6,85.0L496.2,84.0M496.2,84.0L496.8,82.5M496.8,82.5L497.4,81.0M497.4,81.0L497.9,80.6M497.9,80.6L498.5,80.3M498.5,80.3L499.0,80.0M499.0,80.0L499.5,79.4M499.9,81.6L500.4,81.0M500.4,81.0L500.9,79.3M501.3,80.1L501.8,78.0M501.8,78.0L502.4,77.0M502.4,77.0L503.0,74.0M504.2,77.0L504.8,76.4M504.8,76.4L505.4,76.0M506.6,79.0L507.2,78.1M507.2,78.1L507.8,75.0M507.8,75.0L508.4,74.4M508.4,74.4L509.0,74.0M514.6,93.0L515.2,89.1M515.2,89.1L515.8,87.0M515.8,87.0L516.4,84.1M516.4,84.1L517.0,81.0M517.0,81.0L517.6,79.6M517.6,79.6L518.2,76.0M518.2,76.0L518.8,73.1M518.8,73.1L519.4,72.0M520.0,72.3L520.6,71.0M520.6,71.0L521.1,70.7M521.5,71.3L522.0,70.0M522.5,70.2L522.9,68.7M524.6,71.0L525.2,70.0M525.2,70.0L525.8,69.0M527.0,73.0L527.6,70.3M527.6,70.3L528.2,70.0M528.2,70.0L528.6,69.0M528.6,69.0L529.0,68.0M532.6,81.0L533.2,79.6M533.2,79.6L533.8,79.0M538.2,105.0L538.6,101.3M538.6,101.3L539.0,96.0M539.0,96.0L539.5,91.1M539.5,91.1L540.0,88.0M540.0,88.0L540.5,87.0M540.5,87.0L541.0,84.0M541.0,84.0L541.5,81.0M541.5,81.0L542.0,77.0M542.0,77.0L542.5,76.0M542.5,76.0L543.0,73.0M543.0,73.0L543.6,69.5M543.6,69.5L544.2,67.0M544.2,67.0L544.8,65.2M544.8,65.2L545.4,64.0M545.4,64.0L546.0,62.7M546.0,62.7L546.6,62.0M547.1,62.5L547.5,60.9M547.5,60.9L548.0,60.0M548.0,60.0L548.5,59.0M548.5,59.0L548.9,58.5M548.9,58.5L549.4,58.0M549.4,58.0L550.0,56.5M550.0,56.5L550.6,56.0M550.6,56.0L551.1,53.6M551.1,53.6L551.5,52.4M551.5,52.4L552.0,52.0M552.5,53.1L552.9,52.2M554.0,55.0L554.6,55.0M554.6,55.0L555.2,52.9M555.2,52.9L555.8,52.0M559.0,77.0L559.4,71.2M559.4,71.2L559.8,66.0M559.8,66.0L560.2,61.1M560.2,61.1L560.6,54.0M560.6,54.0L561.2,52.4M561.2,52.4L561.8,49.0M562.4,49.2L563.0,48.0M565.8,69.0L566.2,65.6M566.2,65.6L566.6,62.0M566.6,62.0L567.0,60.0M567.0,60.0L567.4,57.0M569.0,72.0L569.5,66.9M569.5,66.9L570.0,62.0M570.0,62.0L570.5,59.1M570.5,59.1L571.0,55.0M573.0,70.0L573.6,66.9M573.6,66.9L574.2,66.0M574.2,66.0L574.6,63.0M574.6,63.0L575.0,58.0M575.0,58.0L575.6,56.6M576.2,57.0L576.8,53.9M576.8,53.9L577.4,51.0M577.4,51.0L578.0,48.1M578.0,48.1L578.6,46.0M578.6,46.0L579.1,44.8M579.5,45.2L580.0,44.0M580.5,44.1L580.9,41.4M580.9,41.4L581.4,41.0M582.6,42.0L583.1,41.5M583.5,42.1L584.0,42.0M587.0,60.0L587.5,56.3M587.5,56.3L588.0,54.0M588.0,54.0L588.5,52.0M588.5,52.0L589.0,48.0M589.0,48.0L589.6,45.5M589.6,45.5L590.2,43.0M592.6,54.0L593.2,53.2M593.2,53.2L593.8,50.0M594.7,53.7L595.3,50.7M595.3,50.7L595.8,49.4M595.8,49.4L596.3,47.0M596.3,47.0L596.8,46.0M596.8,46.0L597.4,44.2M598.9,48.6L599.4,45.9M599.4,45.9L599.9,45.1M599.9,45.1L600.4,43.2M600.4,43.2L600.9,42.6M600.9,42.6L601.4,41.1M601.4,41.1L601.9,40.9M603.0,43.4L603.5,43.1M603.5,43.1L604.0,40.9M606.1,49.4L606.6,45.8M606.6,45.8L607.1,42.6M608.1,44.3L608.6,41.8M608.6,41.8L609.1,40.0M609.1,40.0L609.7,38.3M609.7,38.3L610.2,37.4M610.2,37.4L610.7,35.9M613.3,42.6L613.8,40.8M616.3,49.4L616.9,48.2M616.9,48.2L617.4,45.1M617.4,45.1L617.9,43.6M617.9,43.6L618.4,43.4M619.4,46.0L619.9,42.8M619.9,42.8L620.5,40.9M620.5,40.9L621.0,39.8M621.0,39.8L621.5,39.1M624.6,54.6L625.1,53.3M625.1,53.3L625.6,50.3M627.5,58.0L627.9,53.8M627.9,53.8L628.4,48.6M628.4,48.6L628.9,46.5M628.9,46.5L629.4,42.6M629.4,42.6L629.9,40.4M629.9,40.4L630.4,38.3M630.4,38.3L630.9,38.1M630.9,38.1L631.4,37.4M633.1,52.9L633.6,50.9M633.6,50.9L634.0,46.9M634.0,46.9L634.4,45.5M634.4,45.5L634.9,42.6M636.9,48.6L637.4,46.3M637.4,46.3L638.0,45.1M638.0,45.1L638.5,43.8M640.0,49.4L640.4,47.3M640.4,47.3L640.9,45.1M643.6,102.6L644.1,96.6M644.1,96.6L644.6,84.6M644.6,84.6L645.1,73.4M646.5,91.4L647.2,86.3M647.2,86.3L647.9,79.4M647.9,79.4L648.6,77.7M649.3,82.9L650.0,79.4M650.0,79.4L650.6,73.4M650.6,73.4L651.3,71.7" stroke="#000" stroke-width="1.15" fill="none" stroke-linecap="butt"/>
</g>
<g clip-path="url(#c2)"><path d="M38.4,347.0 L39.0,338.0 L39.5,337.2 L39.9,337.4 L40.4,337.0 L40.9,336.8 L41.5,337.2 L42.0,337.0 L42.5,336.6 L43.1,334.9 L43.6,335.0 L44.1,333.5 L44.5,334.3 L45.0,333.0 L45.5,332.6 L46.0,332.5 L46.5,333.9 L47.0,333.0 L47.5,332.9 L48.0,333.6 L48.5,333.0 L49.0,333.0 L49.5,333.6 L49.9,333.0 L50.4,334.0 L50.9,335.6 L51.5,337.3 L52.0,338.0 L52.5,337.4 L53.1,337.1 L53.6,336.0 L54.1,335.0 L54.5,332.5 L55.0,332.0 L55.5,335.0 L56.0,337.0 L56.5,341.7 L57.0,346.0 L57.5,351.6 L58.0,358.0 L58.5,353.2 L59.0,350.0 L59.5,355.2 L60.0,359.0 L60.5,359.3 L61.1,360.1 L61.6,360.0 L62.1,355.7 L62.6,350.0 L63.1,348.4 L63.5,346.8 L64.0,344.0 L64.5,343.1 L65.1,343.2 L65.6,342.0 L66.1,342.2 L66.5,343.5 L67.0,343.0 L67.5,342.7 L67.9,340.3 L68.4,340.0 L68.9,338.7 L69.5,338.2 L70.0,338.0 L70.5,338.8 L71.1,337.9 L71.6,338.0 L72.1,337.2 L72.7,335.6 L73.2,335.0 L73.8,336.0 L74.4,337.0 L75.0,338.3 L75.6,340.0 L76.1,339.4 L76.5,339.5 L77.0,339.0 L77.5,338.5 L77.9,338.4 L78.4,337.0 L79.0,339.8 L79.6,342.0 L80.1,342.4 L80.5,342.0 L81.0,341.0 L81.5,343.6 L81.9,344.6 L82.4,346.0 L82.9,347.9 L83.4,351.0 L83.9,348.1 L84.4,344.0 L85.0,343.3 L85.6,341.0 L86.1,341.1 L86.5,339.8 L87.0,339.0 L87.5,339.7 L87.9,339.1 L88.4,340.0 L89.0,339.6 L89.6,338.0 L90.0,342.1 L90.4,346.0 L91.0,350.1 L91.6,355.0 L92.2,350.7 L92.8,348.0 L93.4,347.6 L94.0,346.0 L94.5,350.9 L95.0,354.0 L95.5,355.3 L96.0,358.0 L96.5,361.5 L97.0,364.0 L97.5,366.8 L98.0,370.0 L98.6,387.0 L99.1,378.9 L99.6,372.0 L100.0,368.1 L100.4,365.0 L101.0,361.5 L101.6,357.0 L102.1,355.3 L102.5,351.5 L103.0,350.0 L103.5,348.5 L103.9,345.8 L104.4,345.0 L105.0,344.4 L105.6,343.0 L106.2,347.7 L106.8,353.0 L107.4,358.2 L108.0,362.0 L108.6,365.4 L109.2,367.0 L109.6,362.0 L110.0,357.0 L110.5,353.4 L111.0,348.0 L111.5,344.7 L112.0,342.0 L112.6,340.7 L113.2,341.0 L113.8,342.7 L114.4,344.0 L115.0,346.2 L115.6,350.0 L116.2,347.0 L116.8,345.0 L117.4,347.8 L118.0,351.0 L118.6,354.2 L119.2,357.0 L119.8,354.9 L120.4,354.0 L121.0,357.7 L121.6,363.0 L122.2,359.7 L122.8,355.0 L123.2,360.2 L123.6,366.0 L124.1,372.8 L124.6,378.0 L125.1,382.7 L125.6,386.0 L126.2,387.8 L126.8,390.0 L127.4,393.4 L128.0,397.0 L128.6,393.0 L129.2,389.0 L129.6,385.3 L130.0,381.0 L130.5,384.7 L131.0,388.0 L131.5,391.6 L132.0,395.0 L132.4,389.7 L132.8,384.0 L133.2,378.8 L133.6,372.0 L134.1,365.0 L134.6,358.0 L135.1,352.9 L135.6,348.0 L136.0,345.9 L136.4,343.0 L136.8,347.5 L137.2,353.0 L137.6,359.1 L138.0,366.0 L138.5,372.9 L139.0,378.0 L139.5,371.0 L140.0,364.0 L140.4,359.1 L140.8,354.0 L141.2,356.6 L141.6,361.0 L142.0,367.3 L142.4,374.0 L142.9,379.1 L143.4,384.0 L143.9,388.1 L144.4,394.0 L144.8,398.2 L145.2,402.0 L145.6,405.7 L146.0,409.0 L146.6,408.7 L147.2,410.0 L147.8,408.7 L148.4,407.0 L149.0,404.4 L149.6,402.0 L150.2,403.8 L150.8,405.0 L151.4,402.2 L152.0,400.0 L152.6,398.9 L153.2,397.0 L153.8,394.4 L154.4,391.0 L154.9,387.1 L155.4,385.0 L155.9,387.7 L156.4,392.0 L156.9,396.3 L157.4,400.0 L157.9,395.8 L158.4,390.0 L158.9,386.6 L159.4,384.0 L159.9,378.4 L160.4,373.0 L160.9,379.7 L161.4,386.0 L161.9,382.7 L162.4,380.0 L162.9,388.8 L163.4,398.0 L163.9,392.7 L164.4,388.0 L165.0,393.8 L165.6,400.0 L166.0,392.2 L166.4,384.0 L166.9,377.6 L167.4,372.0 L167.9,365.8 L168.4,360.0 L168.9,355.5 L169.4,350.0 L169.9,345.1 L170.4,342.0 L171.0,343.1 L171.6,344.0 L172.1,340.9 L172.6,337.0 L173.1,333.7 L173.6,331.0 L174.1,329.0 L174.6,328.0 L175.1,330.9 L175.5,332.2 L176.0,335.0 L176.5,339.4 L177.0,345.0 L177.5,339.4 L178.0,334.0 L178.5,340.4 L179.0,346.0 L179.5,341.3 L180.0,338.0 L180.5,342.7 L181.0,348.0 L181.5,352.7 L182.0,358.0 L182.5,365.6 L183.0,372.0 L183.5,381.9 L184.0,392.0 L184.6,370.0 L185.1,360.6 L185.6,350.0 L186.0,344.4 L186.4,340.0 L187.0,339.2 L187.6,339.0 L188.1,341.8 L188.6,344.0 L189.0,349.7 L189.4,354.0 L190.0,366.0 L190.5,370.9 L191.0,376.0 L191.5,377.0 L192.0,379.0 L192.4,370.8 L192.8,364.0 L193.2,360.1 L193.6,356.0 L194.1,352.4 L194.6,350.0 L195.1,354.6 L195.6,358.0 L196.1,353.6 L196.6,348.0 L197.1,347.1 L197.5,346.9 L198.0,347.0 L198.6,344.6 L199.2,341.0 L199.8,340.3 L200.4,339.0 L201.0,337.1 L201.6,334.0 L202.1,333.7 L202.5,333.3 L203.0,334.0 L203.5,334.0 L203.9,335.2 L204.4,335.0 L205.0,336.6 L205.6,339.0 L206.1,336.7 L206.5,334.9 L207.0,333.0 L207.5,332.9 L207.9,332.8 L208.4,333.0 L209.0,334.8 L209.6,335.0 L210.1,335.7 L210.5,336.8 L211.0,339.0 L211.5,339.1 L211.9,338.4 L212.4,337.0 L213.0,338.9 L213.6,339.0 L214.1,338.9 L214.5,339.8 L215.0,339.0 L215.5,341.1 L215.9,341.2 L216.4,343.0 L216.9,344.4 L217.4,345.0 L218.0,360.0 L218.6,346.0 L219.1,345.6 L219.6,344.0 L220.2,340.8 L220.8,337.0 L221.4,337.5 L222.0,338.0 L222.6,340.6 L223.2,344.0 L223.8,345.7 L224.4,348.0 L225.0,344.0 L225.6,341.0 L226.2,340.7 L226.8,342.0 L227.2,347.2 L227.6,352.0 L228.0,357.6 L228.4,364.0 L228.8,374.1 L229.2,383.0 L229.6,376.2 L230.0,371.0 L230.5,366.7 L231.0,361.0 L231.5,363.8 L232.0,366.0 L232.4,371.3 L232.8,375.0 L233.4,373.2 L234.0,370.0 L234.5,365.7 L235.0,360.0 L235.5,358.6 L236.0,357.0 L236.5,356.6 L237.0,358.0 L237.5,362.9 L238.0,367.0 L238.5,370.4 L239.0,375.0 L239.5,376.6 L240.0,379.0 L240.5,381.8 L241.0,384.0 L241.5,386.5 L242.0,389.0 L242.4,393.8 L242.8,399.0 L243.4,395.8 L244.0,391.0 L244.6,388.2 L245.2,385.0 L245.6,386.2 L246.0,388.0 L246.6,393.6 L247.2,400.0 L247.8,399.2 L248.4,397.0 L249.0,391.5 L249.6,386.0 L250.2,387.5 L250.8,388.0 L251.4,382.7 L252.0,378.0 L252.6,371.0 L253.2,365.0 L253.6,367.1 L254.0,369.0 L254.5,376.1 L255.0,382.0 L255.5,377.9 L256.0,375.0 L256.6,367.0 L257.2,358.0 L257.8,354.3 L258.4,349.0 L259.0,354.1 L259.6,358.0 L260.2,363.1 L260.8,367.0 L261.4,360.6 L262.0,356.0 L262.6,352.2 L263.2,348.0 L263.8,358.2 L264.4,367.0 L264.9,359.7 L265.4,354.0 L265.9,349.6 L266.4,346.0 L267.0,350.6 L267.6,356.0 L268.2,350.0 L268.8,344.0 L269.4,342.4 L270.0,341.0 L270.5,340.6 L271.1,340.8 L271.6,340.0 L272.1,339.8 L272.5,340.5 L273.0,342.0 L273.5,340.3 L274.0,340.0 L274.6,341.8 L275.2,345.0 L275.8,346.7 L276.4,350.0 L277.0,349.9 L277.6,348.0 L278.2,349.1 L278.8,349.0 L279.4,342.8 L280.0,338.0 L280.6,337.0 L281.2,336.0 L281.8,337.2 L282.4,339.0 L282.9,336.7 L283.4,335.0 L284.0,335.7 L284.6,337.0 L285.1,338.9 L285.5,340.5 L286.0,342.0 L286.5,346.7 L287.0,352.0 L287.5,350.4 L288.0,350.0 L288.6,348.7 L289.2,348.0 L289.8,349.3 L290.4,352.0 L290.9,355.6 L291.4,359.0 L291.9,361.4 L292.4,363.0 L293.0,358.8 L293.6,355.0 L294.0,350.2 L294.4,347.0 L294.8,350.9 L295.2,356.0 L295.6,360.8 L296.0,366.0 L296.4,371.2 L296.8,376.0 L297.4,373.5 L298.0,370.0 L298.5,367.3 L299.0,365.0 L299.5,365.0 L300.0,364.0 L300.5,370.2 L301.0,376.0 L301.5,378.9 L302.0,382.0 L302.5,384.8 L303.0,388.0 L303.6,393.0 L304.1,387.5 L304.6,382.0 L305.1,377.4 L305.6,372.0 L306.2,368.9 L306.8,366.0 L307.4,363.8 L308.0,361.0 L308.6,359.4 L309.2,358.0 L309.8,361.0 L310.4,356.5 L311.0,353.0 L311.6,350.6 L312.2,348.0 L312.8,351.4 L313.4,354.0 L313.9,345.7 L314.4,339.0 L314.9,340.9 L315.4,343.0 L315.9,345.4 L316.4,348.0 L316.9,355.2 L317.4,361.0 L317.8,352.3 L318.2,342.0 L318.6,336.8 L319.0,332.0 L319.6,333.7 L320.2,334.0 L320.8,334.0 L321.4,333.0 L322.0,332.1 L322.6,332.0 L323.2,330.9 L323.8,330.0 L324.4,328.8 L325.0,329.0 L325.6,330.1 L326.2,330.0 L326.8,330.8 L327.4,331.0 L328.0,332.7 L328.6,333.0 L329.1,333.5 L329.5,333.3 L330.0,333.0 L330.5,333.1 L330.9,332.4 L331.4,332.0 L332.0,332.3 L332.6,334.0 L333.2,335.2 L333.8,336.0 L334.4,339.1 L335.0,344.0 L335.4,345.4 L335.8,348.0 L336.4,357.0 L336.9,352.5 L337.4,347.0 L338.0,344.2 L338.6,343.0 L339.2,340.8 L339.8,340.0 L340.4,337.3 L341.0,336.0 L341.6,336.7 L342.2,336.0 L342.8,336.9 L343.4,339.0 L344.0,340.6 L344.6,344.0 L345.2,346.6 L345.8,348.0 L346.4,344.3 L347.0,342.0 L347.5,346.1 L348.0,349.0 L348.5,352.3 L349.0,355.0 L349.6,351.6 L350.2,347.0 L350.8,343.8 L351.4,339.0 L351.9,346.6 L352.4,354.0 L352.9,360.0 L353.4,365.0 L353.9,366.2 L354.4,369.0 L354.9,364.0 L355.4,358.0 L355.9,353.0 L356.4,348.0 L356.9,350.4 L357.4,352.0 L358.0,348.8 L358.6,347.0 L359.2,342.9 L359.8,338.0 L360.4,336.8 L361.0,334.0 L361.6,332.7 L362.2,333.0 L362.8,331.7 L363.4,331.0 L364.0,330.1 L364.6,329.0 L365.1,332.6 L365.6,335.0 L366.1,336.0 L366.6,338.0 L367.2,340.4 L367.8,344.0 L368.4,347.0 L369.0,351.0 L369.5,352.2 L370.0,353.0 L370.5,359.5 L371.0,365.0 L371.5,358.8 L372.0,353.0 L372.5,358.8 L373.0,365.0 L373.5,356.8 L374.0,349.0 L374.5,354.2 L375.0,360.0 L375.4,367.9 L375.8,376.0 L376.2,380.7 L376.6,387.0 L377.1,380.0 L377.6,373.0 L378.1,371.9 L378.6,369.0 L379.2,367.8 L379.8,367.0 L380.4,360.9 L381.0,354.0 L381.5,348.4 L382.0,344.0 L382.5,341.8 L383.0,339.0 L383.6,339.0 L384.2,338.0 L384.8,337.8 L385.4,337.0 L386.0,338.5 L386.6,340.0 L387.2,341.5 L387.8,343.0 L388.4,340.8 L389.0,338.0 L389.6,338.7 L390.2,338.0 L390.8,339.9 L391.4,343.0 L392.0,341.8 L392.6,342.0 L393.2,344.4 L393.8,346.0 L394.2,350.7 L394.6,354.0 L395.0,359.0 L395.4,364.0 L395.8,366.9 L396.2,370.0 L396.6,365.9 L397.0,361.0 L397.4,359.9 L397.8,360.0 L398.2,365.6 L398.6,372.0 L399.0,376.0 L399.4,381.0 L399.9,382.2 L400.4,383.0 L400.9,377.7 L401.4,373.0 L401.9,367.0 L402.4,362.0 L402.9,357.8 L403.4,353.0 L403.9,352.3 L404.4,350.0 L404.9,346.6 L405.4,344.0 L405.8,341.4 L406.2,338.0 L406.6,342.3 L407.0,347.0 L407.6,350.1 L408.2,352.0 L408.8,352.7 L409.4,353.0 L409.9,356.1 L410.4,360.0 L410.9,357.5 L411.4,356.0 L411.9,359.1 L412.4,364.0 L413.0,377.0 L413.6,353.0 L414.1,348.5 L414.6,344.0 L415.2,341.8 L415.8,340.0 L416.4,337.4 L417.0,336.0 L417.6,335.2 L418.2,335.0 L418.8,335.7 L419.4,337.0 L420.0,338.0 L420.6,338.0 L421.2,338.4 L421.8,340.0 L422.4,342.4 L423.0,343.0 L423.6,346.0 L424.2,349.0 L424.8,346.2 L425.4,343.0 L425.8,340.4 L426.2,338.0 L426.8,341.1 L427.4,343.0 L428.0,344.1 L428.6,344.0 L429.2,343.6 L429.8,343.0 L430.4,344.0 L431.0,345.0 L431.6,347.9 L432.2,350.0 L432.8,349.1 L433.4,347.0 L434.0,350.8 L434.6,355.0 L435.0,359.4 L435.4,363.0 L436.0,363.8 L436.6,363.0 L437.2,357.9 L437.8,353.0 L438.4,349.0 L439.0,346.0 L439.6,343.5 L440.2,342.0 L440.8,342.9 L441.4,343.0 L442.0,347.3 L442.6,351.0 L443.2,349.8 L443.8,347.0 L444.3,351.1 L444.8,354.0 L445.4,351.0 L446.0,349.0 L446.6,349.4 L447.2,351.0 L447.6,352.6 L448.0,355.0 L448.4,365.4 L448.8,377.0 L449.2,374.9 L449.6,372.0 L450.0,377.1 L450.4,381.0 L450.9,385.7 L451.4,389.0 L451.9,387.1 L452.4,386.0 L452.8,379.7 L453.2,372.0 L453.6,367.7 L454.0,364.0 L454.6,360.9 L455.2,358.0 L455.8,355.9 L456.4,353.0 L457.0,354.3 L457.6,357.0 L458.2,353.3 L458.8,351.0 L459.4,352.1 L460.0,352.0 L460.6,348.6 L461.2,346.0 L461.8,343.2 L462.4,341.0 L463.0,340.6 L463.6,340.0 L464.2,345.8 L464.8,351.0 L465.2,344.6 L465.6,340.0 L466.2,343.7 L466.8,348.0 L467.4,345.4 L468.0,343.0 L468.6,345.5 L469.2,348.0 L469.6,352.0 L470.0,357.0 L470.4,349.7 L470.8,342.0 L471.2,340.3 L471.6,337.0 L472.0,342.3 L472.4,348.0 L472.8,353.6 L473.2,359.0 L473.6,353.8 L474.0,350.0 L474.4,358.6 L474.8,368.0 L475.2,372.3 L475.6,376.0 L476.2,368.8 L476.8,363.0 L477.4,360.7 L478.0,357.0 L478.6,361.2 L479.2,364.0 L479.8,361.3 L480.4,360.0 L481.0,361.3 L481.6,361.0 L482.2,363.3 L482.8,366.0 L483.4,362.5 L484.0,358.0 L484.6,354.5 L485.2,350.0 L485.8,354.6 L486.4,360.0 L487.0,363.8 L487.6,367.0 L488.1,361.8 L488.6,356.0 L489.1,352.1 L489.6,347.0 L490.2,344.6 L490.8,343.0 L491.4,342.5 L492.0,341.0 L492.6,338.8 L493.2,335.0 L493.8,334.8 L494.4,334.0 L495.0,339.1 L495.6,344.0 L496.2,340.3 L496.8,338.0 L497.4,335.5 L498.0,333.0 L498.6,333.2 L499.2,334.0 L499.8,336.9 L500.4,339.0 L501.0,339.8 L501.6,340.0 L502.2,338.6 L502.8,337.0 L503.4,337.4 L504.0,339.0 L504.6,341.3 L505.2,343.0 L505.8,343.7 L506.4,344.0 L507.0,346.4 L507.6,350.0 L508.0,353.2 L508.4,355.0 L508.8,351.8 L509.2,348.0 L509.8,351.8 L510.4,357.0 L511.0,362.8 L511.6,367.0 L512.2,371.9 L512.8,378.0 L513.2,381.2 L513.6,385.0 L514.0,387.9 L514.4,390.0 L514.9,386.2 L515.4,382.0 L515.9,377.6 L516.4,373.0 L517.0,369.3 L517.6,365.0 L518.2,359.9 L518.8,355.0 L519.4,353.2 L520.0,352.0 L520.6,350.4 L521.2,350.0 L521.8,348.2 L522.4,348.0 L523.0,348.9 L523.6,349.0 L524.2,348.5 L524.8,347.0 L525.4,350.6 L526.0,354.0 L526.6,354.9 L527.2,355.0 L527.6,358.2 L528.0,362.0 L528.5,359.1 L529.0,357.0 L529.5,360.8 L530.0,365.0 L530.6,368.2 L531.2,370.0 L531.8,371.7 L532.4,375.0 L533.0,377.5 L533.6,380.0 L534.0,377.5 L534.4,376.0 L534.8,382.0 L535.2,387.0 L535.6,383.2 L536.0,380.0 L536.4,385.7 L536.8,392.0 L537.2,393.8 L537.6,396.0 L538.0,397.6 L538.4,399.0 L538.8,393.5 L539.2,387.0 L539.6,382.7 L540.0,379.0 L540.4,378.1 L540.8,376.0 L541.2,371.3 L541.6,368.0 L542.0,363.1 L542.4,359.0 L543.0,354.8 L543.6,352.0 L544.2,347.8 L544.8,345.0 L545.4,344.0 L546.0,342.0 L546.6,341.4 L547.2,340.0 L547.8,338.4 L548.4,338.0 L549.0,335.9 L549.6,335.0 L550.2,333.8 L550.8,333.0 L551.4,333.4 L552.0,333.0 L552.6,335.1 L553.2,336.0 L553.8,337.9 L554.4,339.0 L555.0,338.2 L555.6,337.0 L556.2,339.9 L556.8,344.0 L557.4,346.3 L558.0,349.0 L558.4,354.4 L558.8,361.0 L559.2,355.5 L559.6,350.0 L560.0,344.6 L560.4,339.0 L561.0,337.5 L561.6,337.0 L562.2,336.6 L562.8,337.0 L563.4,342.0 L564.0,346.0 L564.4,351.2 L564.8,358.0 L565.2,368.5 L565.6,378.0 L566.0,367.2 L566.4,355.0 L566.8,363.3 L567.2,370.0 L567.6,368.3 L568.0,367.0 L568.6,373.6 L569.2,380.0 L569.6,375.1 L570.0,370.0 L570.4,364.7 L570.8,359.0 L571.2,364.4 L571.6,368.0 L572.0,364.8 L572.4,361.0 L572.8,369.6 L573.2,379.0 L573.6,376.1 L574.0,372.0 L574.5,367.0 L575.0,362.0 L575.5,358.2 L576.0,354.0 L576.6,355.9 L577.2,357.0 L577.8,352.6 L578.4,350.0 L579.0,347.5 L579.6,344.0 L580.3,342.8 L580.9,344.1 L581.5,344.8 L582.1,346.2 L582.7,347.7 L583.3,348.3 L583.9,348.7 L584.5,352.1 L585.1,355.6 L585.7,357.6 L586.2,360.6 L586.6,365.6 L587.0,370.5 L587.4,365.7 L587.8,362.6 L588.3,358.6 L588.8,354.7 L589.3,352.0 L589.8,348.7 L590.3,352.1 L590.8,355.6 L591.3,360.7 L591.8,365.6 L592.3,360.4 L592.8,353.7 L593.3,359.8 L593.8,364.6 L594.4,358.5 L595.0,353.7 L595.6,356.2 L596.2,357.6 L596.8,355.9 L597.4,353.7 L597.9,354.8 L598.5,357.6 L599.1,363.8 L599.7,370.5 L600.2,366.6 L600.7,363.6 L601.2,359.9 L601.7,357.6 L602.2,361.7 L602.7,365.6 L603.2,363.9 L603.7,360.6 L604.2,366.7 L604.7,373.5 L605.2,368.2 L605.7,361.6 L606.1,368.4 L606.5,374.5 L606.9,369.4 L607.3,365.6 L607.7,364.2 L608.0,361.6 L608.5,364.8 L609.0,367.5 L609.5,361.9 L610.0,354.7 L610.5,354.6 L611.0,353.7 L611.5,357.6 L612.0,360.6 L612.5,363.3 L613.0,366.6 L613.5,366.6 L614.0,365.6 L614.5,367.8 L615.0,368.5 L615.5,371.2 L616.0,372.5 L616.6,375.9 L617.2,379.4 L617.7,374.9 L618.2,369.5 L618.7,373.5 L619.1,377.4 L619.5,372.8 L619.9,369.5 L620.5,364.7 L621.1,361.6 L621.6,362.3 L622.1,364.6 L622.6,369.5 L623.1,375.5 L623.6,380.3 L624.1,386.4 L624.6,382.9 L625.1,379.4 L625.6,381.8 L626.1,383.4 L626.6,380.5 L627.1,377.4 L627.6,376.3 L628.1,375.5 L628.6,371.8 L629.1,367.5 L629.6,364.2 L630.0,361.6 L630.5,364.0 L631.0,366.6 L631.5,369.0 L632.0,370.5 L632.5,373.8 L633.0,377.4 L633.5,370.9 L634.0,365.6 L634.5,366.6 L634.9,366.6 L635.4,366.6 L636.0,365.8 L636.6,365.6 L637.2,366.3 L637.8,367.5 L638.3,364.6 L638.8,361.6 L639.3,364.7 L639.8,367.5 L640.3,364.1 L640.8,361.6 L641.3,369.5 L641.9,381.4 L642.3,388.4 L642.7,397.3 L643.1,401.2 L643.5,406.2 L643.9,400.8 L644.3,394.3 L644.7,393.2 L645.1,393.3 L645.5,397.7 L645.9,402.2 L646.4,399.7 L646.9,398.3 L647.4,395.8 L647.9,394.3 L648.4,395.2 L648.9,397.3 L649.4,394.6 L649.9,392.3 L650.4,389.2 L650.9,387.4 L651.3,385.0 L651.6,384.4 L652.0,386.7 L652.4,390.3" stroke="#000" stroke-width="1.85" fill="none" stroke-linejoin="round" stroke-linecap="round"/></g>
<g clip-path="url(#c3)"><path d="M38.0,484.0 L38.6,481.6 L39.2,480.0 L39.8,480.9 L40.4,483.0 L41.0,482.3 L41.6,482.0 L42.2,483.4 L42.8,486.0 L43.4,486.8 L44.0,489.0 L44.6,492.3 L45.2,496.0 L45.8,494.2 L46.4,491.0 L47.0,490.0 L47.6,488.0 L48.2,486.9 L48.8,485.0 L49.4,483.1 L50.0,482.0 L50.6,480.6 L51.2,479.0 L51.8,477.6 L52.4,477.0 L53.0,478.5 L53.6,481.0 L54.2,481.9 L54.8,484.0 L55.4,483.0 L56.0,483.0 L56.4,480.2 L56.8,476.0 L57.2,480.0 L57.6,483.0 L58.0,487.0 L58.4,490.0 L58.8,487.0 L59.2,483.0 L59.6,480.0 L60.0,478.0 L60.4,475.7 L60.8,474.0 L61.4,466.0 L61.8,472.2 L62.2,478.0 L62.7,481.4 L63.2,484.0 L63.8,483.6 L64.4,482.0 L65.0,484.6 L65.6,486.0 L66.2,484.3 L66.8,484.0 L67.4,487.2 L68.0,490.0 L68.5,492.8 L69.0,495.0 L69.5,496.0 L70.0,497.0 L70.6,493.5 L71.2,491.0 L71.8,490.5 L72.4,490.0 L73.0,488.8 L73.6,489.0 L74.2,489.2 L74.8,488.0 L75.4,489.1 L76.0,489.0 L76.6,488.1 L77.2,487.0 L77.8,484.7 L78.4,483.0 L79.0,481.7 L79.6,479.0 L80.2,482.1 L80.8,485.0 L81.2,482.1 L81.6,478.0 L82.0,475.6 L82.4,472.0 L82.9,476.0 L83.4,480.0 L83.9,481.9 L84.4,484.0 L85.0,483.2 L85.6,482.0 L86.2,482.4 L86.8,483.0 L87.4,481.5 L88.0,481.0 L88.6,482.2 L89.2,484.0 L89.6,481.5 L90.0,478.0 L90.4,473.3 L90.8,470.0 L91.2,470.8 L91.6,473.0 L92.1,476.2 L92.6,479.0 L93.1,476.1 L93.6,474.0 L94.1,476.1 L94.6,478.0 L95.1,477.5 L95.6,477.0 L96.1,475.2 L96.6,474.0 L97.0,469.8 L97.4,464.0 L97.8,459.0 L98.2,455.0 L98.6,460.4 L99.0,466.0 L99.4,471.0 L99.8,477.0 L100.3,479.2 L100.8,481.0 L101.4,479.1 L102.0,478.0 L102.6,480.3 L103.2,483.0 L103.8,482.9 L104.4,482.0 L105.0,483.2 L105.6,485.0 L106.2,487.6 L106.8,490.0 L107.4,492.1 L108.0,493.0 L108.5,493.4 L109.0,495.0 L109.5,491.3 L110.0,489.0 L110.4,491.6 L110.8,495.0 L111.4,493.4 L112.0,491.0 L112.6,489.7 L113.2,488.0 L113.8,485.6 L114.4,484.0 L115.0,481.2 L115.6,479.0 L116.2,481.0 L116.8,484.0 L117.4,482.4 L118.0,481.0 L118.4,483.3 L118.8,487.0 L119.4,484.8 L120.0,482.0 L120.6,480.6 L121.2,478.0 L121.8,481.2 L122.4,483.0 L123.0,480.4 L123.6,477.0 L124.2,477.2 L124.8,476.0 L125.4,476.2 L126.0,478.0 L126.6,476.2 L127.2,475.0 L127.8,474.7 L128.4,473.0 L128.8,470.9 L129.2,468.0 L129.6,470.9 L130.0,474.0 L130.5,477.7 L131.0,480.0 L131.5,476.7 L132.0,473.0 L132.5,477.0 L133.0,480.0 L133.5,482.2 L134.0,485.0 L134.6,483.5 L135.2,483.0 L135.8,481.9 L136.4,481.0 L137.0,477.9 L137.6,476.0 L138.2,474.3 L138.8,473.0 L139.4,476.2 L140.0,478.0 L140.6,476.7 L141.2,476.0 L141.8,471.2 L142.4,468.0 L143.0,463.8 L143.6,461.0 L144.0,456.5 L144.4,453.0 L144.8,460.0 L145.2,466.0 L145.8,447.0 L146.4,432.0 L147.0,440.0 L147.6,451.0 L148.0,447.3 L148.4,444.0 L148.8,448.7 L149.2,454.0 L149.6,455.9 L150.0,459.0 L150.4,452.8 L150.8,445.0 L151.2,449.4 L151.6,454.0 L152.0,457.0 L152.4,461.0 L153.0,461.8 L153.6,464.0 L154.2,464.8 L154.8,467.0 L155.4,467.0 L156.0,468.0 L156.6,464.8 L157.2,461.0 L157.8,461.9 L158.4,464.0 L159.0,466.3 L159.6,470.0 L160.0,473.0 L160.4,476.0 L161.0,470.6 L161.6,466.0 L162.2,463.8 L162.8,460.0 L163.4,460.4 L164.0,462.0 L164.6,462.5 L165.2,463.0 L165.8,464.9 L166.4,466.0 L167.0,467.4 L167.6,469.0 L168.2,471.3 L168.8,472.0 L169.4,473.5 L170.0,475.0 L170.6,470.6 L171.2,467.0 L171.8,468.4 L172.4,470.0 L173.0,471.8 L173.6,475.0 L174.2,476.4 L174.8,478.0 L175.4,471.1 L176.0,465.0 L176.6,469.1 L177.2,472.0 L177.8,474.5 L178.4,476.0 L178.8,471.0 L179.2,466.0 L179.8,468.8 L180.4,473.0 L181.0,472.1 L181.6,472.0 L182.2,473.1 L182.8,475.0 L183.4,475.0 L184.0,476.0 L184.6,476.1 L185.2,477.0 L185.8,479.1 L186.4,480.0 L187.0,477.4 L187.6,476.0 L188.1,474.3 L188.6,474.0 L189.0,479.2 L189.4,483.0 L189.9,486.1 L190.4,489.0 L191.0,489.3 L191.6,488.0 L192.2,488.8 L192.8,490.0 L193.4,491.1 L194.0,491.0 L194.6,488.7 L195.2,486.0 L195.8,486.0 L196.4,485.0 L197.0,485.9 L197.6,486.0 L198.2,485.5 L198.8,485.0 L199.4,485.3 L200.0,487.0 L200.6,485.0 L201.2,484.0 L201.6,489.6 L202.0,494.0 L202.5,492.6 L203.0,490.0 L203.5,488.2 L204.0,485.0 L204.6,485.2 L205.2,486.0 L205.8,485.3 L206.4,484.0 L207.0,486.5 L207.6,488.0 L208.2,486.7 L208.8,485.0 L209.4,484.5 L210.0,483.0 L210.5,485.0 L211.0,487.0 L211.5,490.7 L212.0,494.0 L212.6,494.8 L213.2,495.0 L213.8,492.6 L214.4,491.0 L215.0,492.7 L215.6,493.0 L216.1,491.7 L216.6,489.0 L217.1,486.8 L217.6,486.0 L218.1,490.8 L218.6,494.0 L219.1,498.2 L219.6,501.0 L220.1,502.3 L220.6,503.0 L221.1,504.3 L221.6,507.0 L222.0,504.1 L222.4,500.0 L223.0,496.4 L223.6,494.0 L224.2,493.2 L224.8,491.0 L225.4,490.8 L226.0,490.0 L226.6,489.8 L227.2,491.0 L227.8,488.0 L228.4,486.0 L228.9,484.2 L229.4,482.0 L229.9,483.6 L230.4,485.0 L231.0,486.9 L231.6,488.0 L232.2,486.7 L232.8,484.0 L233.4,484.0 L234.0,485.0 L234.6,484.7 L235.2,486.0 L235.8,485.2 L236.4,483.0 L237.0,481.2 L237.6,481.0 L238.2,480.1 L238.8,478.0 L239.4,477.9 L240.0,479.0 L240.6,477.5 L241.2,475.0 L241.8,478.5 L242.4,481.0 L243.0,481.6 L243.6,481.0 L244.2,483.1 L244.8,485.0 L245.4,483.1 L246.0,480.0 L246.6,478.0 L247.2,477.0 L247.8,478.8 L248.4,480.0 L249.0,481.2 L249.6,483.0 L250.2,481.6 L250.8,479.0 L251.4,481.9 L252.0,484.0 L252.6,487.5 L253.2,491.0 L253.8,490.0 L254.4,489.0 L255.0,485.7 L255.6,484.0 L256.2,485.3 L256.8,488.0 L257.4,486.7 L258.0,485.0 L258.6,486.0 L259.2,487.0 L259.8,485.6 L260.4,483.0 L261.0,483.7 L261.6,484.0 L262.2,485.9 L262.8,489.0 L263.4,486.8 L264.0,485.0 L264.4,482.4 L264.8,479.0 L265.2,482.5 L265.6,486.0 L266.2,483.7 L266.8,483.0 L267.2,481.5 L267.6,479.0 L268.0,483.5 L268.4,487.0 L269.0,487.8 L269.6,490.0 L270.2,491.6 L270.8,493.0 L271.4,496.3 L272.0,500.0 L272.6,502.5 L273.2,504.0 L273.8,499.7 L274.4,496.0 L275.0,494.6 L275.6,494.0 L276.2,492.0 L276.8,490.0 L277.4,490.2 L278.0,489.0 L278.6,485.9 L279.2,484.0 L279.8,484.9 L280.4,487.0 L280.9,490.2 L281.4,493.0 L281.9,488.1 L282.4,482.0 L283.0,484.0 L283.6,486.0 L284.2,487.4 L284.8,489.0 L285.4,487.1 L286.0,484.0 L286.6,482.9 L287.2,481.0 L287.8,481.3 L288.4,483.0 L289.0,486.1 L289.6,488.0 L290.2,484.0 L290.8,481.0 L291.4,481.7 L292.0,483.0 L292.6,482.0 L293.2,480.0 L293.8,478.9 L294.4,478.0 L295.0,476.0 L295.6,473.0 L296.2,473.0 L296.8,474.0 L297.4,474.1 L298.0,473.0 L298.6,472.0 L299.2,472.0 L299.8,472.4 L300.4,474.0 L301.0,475.5 L301.6,477.0 L302.2,479.7 L302.8,483.0 L303.4,484.1 L304.0,485.0 L304.6,486.1 L305.2,486.0 L305.8,485.3 L306.4,484.0 L307.0,481.7 L307.6,481.0 L308.2,478.2 L308.8,476.0 L309.3,477.1 L309.8,478.0 L310.4,478.5 L311.0,479.0 L311.6,477.8 L312.2,476.0 L312.8,476.5 L313.4,477.0 L314.0,474.3 L314.6,473.0 L315.2,472.1 L315.8,472.0 L316.2,474.1 L316.6,475.0 L317.0,468.8 L317.4,463.0 L317.8,467.9 L318.2,472.0 L318.6,479.3 L319.0,485.0 L319.6,487.7 L320.2,490.0 L320.8,490.8 L321.4,491.0 L322.0,490.7 L322.6,490.0 L323.2,491.2 L323.8,493.0 L324.4,492.2 L325.0,490.0 L325.6,486.9 L326.2,484.0 L326.8,481.7 L327.4,478.0 L328.0,480.7 L328.6,484.0 L329.0,481.6 L329.4,478.0 L330.0,482.0 L330.6,485.0 L331.2,484.7 L331.8,484.0 L332.4,483.4 L333.0,483.0 L333.6,482.9 L334.2,484.0 L334.6,478.4 L335.0,472.0 L335.4,465.8 L335.8,460.0 L336.2,467.3 L336.6,474.0 L337.1,472.9 L337.6,473.0 L338.1,474.8 L338.6,478.0 L339.2,478.9 L339.8,481.0 L340.4,486.5 L341.0,491.0 L341.6,492.0 L342.2,494.0 L342.6,495.6 L343.0,496.0 L343.6,488.8 L344.2,482.0 L344.8,483.6 L345.4,485.0 L345.8,482.3 L346.2,480.0 L346.8,482.2 L347.4,484.0 L348.0,480.8 L348.6,479.0 L349.2,479.8 L349.8,481.0 L350.4,484.2 L351.0,486.0 L351.5,482.5 L352.0,480.0 L352.4,473.2 L352.8,466.0 L353.2,469.7 L353.6,474.0 L354.0,470.7 L354.4,468.0 L354.8,473.2 L355.2,480.0 L355.7,478.2 L356.2,478.0 L356.8,479.2 L357.4,479.0 L358.0,479.0 L358.6,478.0 L359.2,481.0 L359.8,483.0 L360.4,484.0 L361.0,484.0 L361.6,486.2 L362.2,487.0 L362.8,488.5 L363.4,491.0 L364.0,491.6 L364.6,492.0 L365.2,489.5 L365.8,487.0 L366.4,484.6 L367.0,482.0 L367.6,479.7 L368.2,476.0 L368.8,474.9 L369.4,473.0 L370.0,473.2 L370.6,472.0 L371.2,474.9 L371.8,479.0 L372.4,475.7 L373.0,472.0 L373.6,475.3 L374.2,478.0 L374.8,472.9 L375.4,467.0 L375.9,469.7 L376.4,472.0 L376.9,475.5 L377.4,478.0 L378.0,478.7 L378.6,480.0 L379.2,480.2 L379.8,479.0 L380.4,480.8 L381.0,483.0 L381.6,482.7 L382.2,482.0 L382.8,483.6 L383.4,484.0 L384.0,483.3 L384.6,482.0 L385.2,485.7 L385.8,490.0 L386.4,487.1 L387.0,485.0 L387.6,485.7 L388.2,487.0 L388.8,485.2 L389.4,483.0 L390.0,486.3 L390.6,488.0 L391.2,487.1 L391.8,485.0 L392.4,487.8 L393.0,491.0 L393.6,487.8 L394.2,485.0 L394.8,483.0 L395.4,480.0 L396.0,477.2 L396.6,475.0 L397.2,475.4 L397.8,476.0 L398.4,474.2 L399.0,474.0 L399.6,476.5 L400.2,480.0 L400.8,478.1 L401.4,476.0 L402.0,477.3 L402.6,478.0 L403.2,480.2 L403.8,482.0 L404.4,479.3 L405.0,477.0 L405.6,479.7 L406.2,481.0 L406.6,484.2 L407.0,487.0 L407.6,481.9 L408.2,478.0 L408.8,473.3 L409.4,470.0 L410.0,472.3 L410.6,473.0 L411.2,471.3 L411.8,468.0 L412.4,466.7 L413.0,464.0 L413.4,468.7 L413.8,473.0 L414.2,469.2 L414.6,466.0 L415.0,470.3 L415.4,476.0 L415.8,479.6 L416.2,484.0 L416.8,484.1 L417.4,485.0 L418.0,484.7 L418.6,483.0 L419.2,484.1 L419.8,484.0 L420.4,483.4 L421.0,482.0 L421.6,480.9 L422.2,481.0 L422.8,482.6 L423.4,485.0 L424.0,483.2 L424.6,482.0 L425.1,485.7 L425.6,488.0 L426.1,489.5 L426.6,492.0 L427.2,488.0 L427.8,483.0 L428.4,483.8 L429.0,484.0 L429.6,483.1 L430.2,482.0 L430.8,480.2 L431.4,477.0 L432.0,474.6 L432.6,473.0 L433.2,474.5 L433.8,476.0 L434.4,473.5 L435.0,472.0 L435.6,470.9 L436.2,471.0 L436.8,472.8 L437.4,476.0 L438.0,478.7 L438.6,482.0 L439.2,481.9 L439.8,483.0 L440.4,479.8 L441.0,478.0 L441.6,479.8 L442.2,480.0 L442.8,481.2 L443.4,483.0 L443.9,484.3 L444.3,484.7 L444.8,485.0 L445.4,486.9 L446.0,488.0 L446.6,487.7 L447.2,487.0 L447.6,483.2 L448.0,478.0 L448.4,470.6 L448.8,462.0 L449.2,466.9 L449.6,471.0 L450.0,469.1 L450.4,467.0 L450.9,463.3 L451.4,459.0 L451.9,463.9 L452.4,468.0 L452.8,467.1 L453.2,466.0 L453.6,470.0 L454.0,474.0 L454.6,475.4 L455.2,478.0 L455.8,480.1 L456.4,481.0 L457.0,478.0 L457.6,475.0 L458.2,478.3 L458.8,483.0 L459.4,479.5 L460.0,477.0 L460.6,481.1 L461.2,484.0 L461.8,482.6 L462.4,482.0 L463.0,481.3 L463.6,481.0 L464.2,480.3 L464.8,479.0 L465.2,474.6 L465.6,469.0 L466.0,473.7 L466.4,479.0 L467.0,477.8 L467.6,477.0 L468.2,478.4 L468.8,480.0 L469.4,478.2 L470.0,478.0 L470.6,479.1 L471.2,479.0 L471.8,476.7 L472.4,476.0 L472.8,474.7 L473.2,472.0 L473.6,473.4 L474.0,476.0 L474.6,470.5 L475.2,466.0 L475.6,470.1 L476.0,473.0 L476.6,476.0 L477.2,478.0 L477.8,479.1 L478.4,481.0 L479.0,479.1 L479.6,477.0 L480.2,479.0 L480.8,481.0 L481.4,480.3 L482.0,479.0 L482.6,480.5 L483.2,483.0 L483.8,482.0 L484.4,480.0 L485.0,483.3 L485.6,485.0 L486.2,484.3 L486.8,483.0 L487.4,486.2 L488.0,488.0 L488.6,487.2 L489.2,485.0 L489.8,487.8 L490.4,491.0 L491.0,489.6 L491.6,487.0 L492.2,489.0 L492.8,490.0 L493.4,487.6 L494.0,485.0 L494.6,486.4 L495.2,489.0 L495.8,485.2 L496.4,481.0 L497.0,483.7 L497.6,485.0 L498.0,487.2 L498.4,490.0 L499.0,485.7 L499.6,481.0 L500.2,482.1 L500.8,482.0 L501.4,483.7 L502.0,485.0 L502.6,486.3 L503.2,489.0 L503.8,485.2 L504.4,481.0 L505.0,479.6 L505.6,479.0 L506.2,481.6 L506.8,483.0 L507.2,477.8 L507.6,472.0 L508.0,475.7 L508.4,480.0 L509.0,483.6 L509.6,486.0 L510.0,480.2 L510.4,474.0 L510.8,475.7 L511.2,478.0 L511.6,471.0 L512.0,463.0 L512.4,466.6 L512.8,469.0 L513.2,471.6 L513.6,473.0 L514.0,473.1 L514.4,472.0 L514.8,474.3 L515.2,476.0 L515.6,479.8 L516.0,483.0 L516.6,482.2 L517.2,481.0 L517.6,484.0 L518.0,487.0 L518.6,486.3 L519.2,484.0 L519.8,485.3 L520.4,487.0 L521.0,486.8 L521.6,488.0 L522.2,489.3 L522.8,490.0 L523.4,489.0 L524.0,488.0 L524.6,486.6 L525.2,485.0 L525.8,483.2 L526.4,481.0 L527.0,484.1 L527.6,488.0 L528.2,484.0 L528.8,481.0 L529.2,484.3 L529.6,489.0 L530.2,485.0 L530.8,480.0 L531.4,478.2 L532.0,475.0 L532.6,474.8 L533.2,474.0 L533.6,475.4 L534.0,478.0 L534.6,475.8 L535.2,472.0 L535.6,468.5 L536.0,464.0 L536.4,458.5 L536.8,453.0 L537.2,451.7 L537.6,452.0 L538.0,454.6 L538.4,456.0 L538.8,467.2 L539.2,478.0 L539.8,477.7 L540.4,477.0 L541.0,478.2 L541.6,481.0 L542.2,482.9 L542.8,484.0 L543.4,482.8 L544.0,483.0 L544.6,485.0 L545.2,487.0 L545.8,485.4 L546.4,485.0 L547.0,487.3 L547.6,490.0 L548.2,488.1 L548.8,485.0 L549.4,486.9 L550.0,488.0 L550.6,491.0 L551.2,493.0 L551.8,494.2 L552.4,496.0 L553.0,492.3 L553.6,489.0 L554.1,492.7 L554.6,496.0 L555.0,497.8 L555.4,501.0 L555.8,493.4 L556.2,486.0 L556.6,481.8 L557.0,476.0 L557.5,473.4 L558.0,470.0 L558.6,468.1 L559.2,465.0 L559.6,470.2 L560.0,476.0 L560.4,480.8 L560.8,485.0 L561.2,489.0 L561.6,492.0 L562.0,487.3 L562.4,482.0 L563.0,477.9 L563.6,474.0 L564.2,472.0 L564.8,471.0 L565.2,469.7 L565.6,470.0 L566.0,476.1 L566.4,481.0 L566.8,478.7 L567.2,475.0 L567.6,472.6 L568.0,471.0 L568.4,468.4 L568.8,465.0 L569.2,468.4 L569.6,472.0 L570.2,476.2 L570.8,480.0 L571.2,483.5 L571.6,486.0 L572.0,481.7 L572.4,478.0 L572.8,475.7 L573.2,473.0 L573.6,473.6 L574.0,475.0 L574.5,478.5 L575.0,482.0 L575.5,482.7 L576.0,485.0 L576.6,484.1 L577.2,484.0 L577.8,486.2 L578.4,489.0 L579.0,492.2 L579.6,494.0 L579.9,488.3 L580.5,489.7 L581.1,492.3 L581.7,491.7 L582.3,490.3 L582.9,492.1 L583.5,495.2 L584.1,493.1 L584.7,489.3 L585.3,486.8 L585.9,485.3 L586.4,481.7 L587.0,479.4 L587.6,480.4 L588.2,482.4 L588.8,488.0 L589.4,492.3 L589.9,495.5 L590.4,498.2 L590.8,493.4 L591.2,487.3 L591.7,484.4 L592.2,481.4 L592.8,483.7 L593.4,487.3 L594.0,485.6 L594.6,484.4 L595.2,485.3 L595.8,486.3 L596.4,490.1 L597.0,492.3 L597.5,488.8 L598.1,486.3 L598.7,488.9 L599.3,492.3 L599.9,490.8 L600.5,488.3 L601.1,490.2 L601.7,493.3 L602.3,492.5 L602.9,490.3 L603.5,488.5 L604.1,487.3 L604.7,485.5 L605.3,483.4 L605.9,482.1 L606.5,480.4 L607.1,485.5 L607.6,489.3 L608.2,489.1 L608.8,490.3 L609.2,493.3 L609.6,495.2 L610.2,492.3 L610.8,490.3 L611.4,487.2 L612.0,483.4 L612.6,481.1 L613.2,480.4 L613.8,481.8 L614.4,482.4 L615.0,480.4 L615.6,479.4 L616.2,480.4 L616.8,482.4 L617.4,479.6 L618.0,478.4 L618.4,483.1 L618.8,488.3 L619.1,483.6 L619.5,479.4 L620.1,481.7 L620.7,482.4 L621.3,486.0 L621.9,489.3 L622.5,484.6 L623.1,480.4 L623.5,477.2 L623.9,472.5 L624.3,469.0 L624.7,466.5 L625.1,469.5 L625.5,473.4 L625.9,473.7 L626.3,472.5 L626.7,470.2 L627.1,466.5 L627.5,464.5 L627.9,469.3 L628.3,473.4 L628.7,478.7 L629.1,482.4 L629.5,485.1 L629.9,489.3 L630.4,491.9 L631.0,493.3 L631.6,492.6 L632.2,491.3 L632.6,487.1 L633.0,482.4 L633.4,480.4 L633.8,477.4 L634.2,482.7 L634.6,489.3 L635.0,490.3 L635.4,492.3 L636.0,488.7 L636.6,486.3 L637.0,484.8 L637.4,483.4 L637.8,487.9 L638.2,492.3 L638.6,490.4 L639.0,488.3 L639.4,489.1 L639.8,490.3 L640.2,489.2 L640.5,487.3 L640.9,482.9 L641.3,477.4 L641.9,463.5 L642.5,445.7 L643.1,428.9 L643.7,424.9 L644.3,441.7 L644.9,459.6 L645.3,461.0 L645.7,461.6 L646.1,459.3 L646.5,458.6 L646.9,461.5 L647.3,465.5 L647.7,467.6 L648.1,470.5 L648.5,468.6 L648.9,467.5 L649.3,471.1 L649.7,474.4 L650.1,469.0 L650.5,464.5 L650.9,466.7 L651.2,468.5 L651.6,469.7 L652.0,471.5" stroke="#000" stroke-width="1.85" fill="none" stroke-linejoin="round" stroke-linecap="round"/></g>
<rect x="37.5" y="29.5" width="619.0" height="276.0" fill="none" stroke="#b8958f" stroke-width="1"/>
<rect x="37.5" y="320.5" width="619.0" height="193.0" fill="none" stroke="#b8958f" stroke-width="1"/>
<path d="M37.5,417.5H656.5" stroke="#b8958f" stroke-width="1"/>
<path d="M42.5,305.5v2.5M42.5,320.5v-2M42.5,513.5v2.5M73.5,305.5v2.5M73.5,320.5v-2M73.5,513.5v2.5M103.5,305.5v2.5M103.5,320.5v-2M103.5,513.5v2.5M134.5,305.5v2.5M134.5,320.5v-2M134.5,513.5v2.5M165.5,305.5v2.5M165.5,320.5v-2M165.5,513.5v2.5M196.5,305.5v2.5M196.5,320.5v-2M196.5,513.5v2.5M226.5,305.5v2.5M226.5,320.5v-2M226.5,513.5v2.5M257.5,305.5v2.5M257.5,320.5v-2M257.5,513.5v2.5M288.5,305.5v2.5M288.5,320.5v-2M288.5,513.5v2.5M318.5,305.5v2.5M318.5,320.5v-2M318.5,513.5v2.5M347.5,305.5v2.5M347.5,320.5v-2M347.5,513.5v2.5M379.5,305.5v2.5M379.5,320.5v-2M379.5,513.5v2.5M410.5,305.5v2.5M410.5,320.5v-2M410.5,513.5v2.5M441.5,305.5v2.5M441.5,320.5v-2M441.5,513.5v2.5M471.5,305.5v2.5M471.5,320.5v-2M471.5,513.5v2.5M502.5,305.5v2.5M502.5,320.5v-2M502.5,513.5v2.5M533.5,305.5v2.5M533.5,320.5v-2M533.5,513.5v2.5M564.5,305.5v2.5M564.5,320.5v-2M564.5,513.5v2.5M594.5,305.5v2.5M594.5,320.5v-2M594.5,513.5v2.5M625.5,305.5v2.5M625.5,320.5v-2M625.5,513.5v2.5M37.5,295.5h-3M37.5,279.5h-3M37.5,262.5h-3M37.5,246.5h-3M37.5,230.5h-3M37.5,214.5h-3M37.5,197.5h-3M37.5,181.5h-3M37.5,165.5h-3M37.5,149.5h-3M37.5,133.5h-3M37.5,116.5h-3M37.5,100.5h-3M37.5,84.5h-3M37.5,68.5h-3M37.5,51.5h-3M37.5,35.5h-3M656.5,298.5h3.5M656.5,273.5h3.5M656.5,247.5h3.5M656.5,222.5h3.5M656.5,196.5h3.5M656.5,171.5h3.5M656.5,146.5h3.5M656.5,120.5h3.5M656.5,95.5h3.5M656.5,70.5h3.5M656.5,44.5h3.5M656.5,303.5h1.5M656.5,293.5h1.5M656.5,288.5h1.5M656.5,283.5h1.5M656.5,278.5h1.5M656.5,267.5h1.5M656.5,262.5h1.5M656.5,257.5h1.5M656.5,252.5h1.5M656.5,242.5h1.5M656.5,237.5h1.5M656.5,232.5h1.5M656.5,227.5h1.5M656.5,217.5h1.5M656.5,212.5h1.5M656.5,207.5h1.5M656.5,201.5h1.5M656.5,191.5h1.5M656.5,186.5h1.5M656.5,181.5h1.5M656.5,176.5h1.5M656.5,166.5h1.5M656.5,161.5h1.5M656.5,156.5h1.5M656.5,151.5h1.5M656.5,141.5h1.5M656.5,136.5h1.5M656.5,130.5h1.5M656.5,125.5h1.5M656.5,115.5h1.5M656.5,110.5h1.5M656.5,105.5h1.5M656.5,100.5h1.5M656.5,90.5h1.5M656.5,85.5h1.5M656.5,80.5h1.5M656.5,75.5h1.5M656.5,64.5h1.5M656.5,59.5h1.5M656.5,54.5h1.5M656.5,49.5h1.5M656.5,39.5h1.5M656.5,34.5h1.5M656.5,410.5h3.5M656.5,388.5h3.5M656.5,366.5h3.5M656.5,344.5h3.5M656.5,406.5h1.5M656.5,401.5h1.5M656.5,397.5h1.5M656.5,392.5h1.5M656.5,384.5h1.5M656.5,379.5h1.5M656.5,375.5h1.5M656.5,370.5h1.5M656.5,361.5h1.5M656.5,357.5h1.5M656.5,353.5h1.5M656.5,348.5h1.5M656.5,339.5h1.5M656.5,335.5h1.5M656.5,330.5h1.5M656.5,326.5h1.5M656.5,508.5h3.5M656.5,494.5h3.5M656.5,481.5h3.5M656.5,467.5h3.5M656.5,453.5h3.5M656.5,440.5h3.5M656.5,426.5h3.5" stroke="#b8958f" stroke-width="1" fill="none"/>
<g style="filter:grayscale(1)">
<text class="ax" x="35.2" y="299" text-anchor="end">105</text>
<text class="ax" x="35.2" y="283" text-anchor="end">110</text>
<text class="ax" x="35.2" y="266" text-anchor="end">115</text>
<text class="ax" x="35.2" y="250" text-anchor="end">120</text>
<text class="ax" x="35.2" y="234" text-anchor="end">125</text>
<text class="ax" x="35.2" y="218" text-anchor="end">130</text>
<text class="ax" x="35.2" y="201" text-anchor="end">135</text>
<text class="ax" x="35.2" y="185" text-anchor="end">140</text>
<text class="ax" x="35.2" y="169" text-anchor="end">145</text>
<text class="ax" x="35.2" y="153" text-anchor="end">150</text>
<text class="ax" x="35.2" y="137" text-anchor="end">155</text>
<text class="ax" x="35.2" y="120" text-anchor="end">160</text>
<text class="ax" x="35.2" y="104" text-anchor="end">165</text>
<text class="ax" x="35.2" y="88" text-anchor="end">170</text>
<text class="ax" x="35.2" y="72" text-anchor="end">175</text>
<text class="ax" x="35.2" y="55" text-anchor="end">180</text>
<text class="ax" x="35.2" y="39" text-anchor="end">185</text>
<text class="ax" x="660" y="302">1100</text>
<text class="ax" x="660" y="277">1200</text>
<text class="ax" x="660" y="251">1300</text>
<text class="ax" x="660" y="226">1400</text>
<text class="ax" x="660" y="200">1500</text>
<text class="ax" x="660" y="175">1600</text>
<text class="ax" x="660" y="150">1700</text>
<text class="ax" x="660" y="124">1800</text>
<text class="ax" x="660" y="99">1900</text>
<text class="ax" x="660" y="74">2000</text>
<text class="ax" x="660" y="48">2100</text>
<text class="ax" x="671.8" y="414" text-anchor="end">0</text>
<text class="ax" x="671.8" y="370" text-anchor="end">50</text>
<text class="ax" x="671.8" y="348" text-anchor="end">75</text>
<text class="ax" x="660" y="430">1.3</text>
<text class="ax" x="660" y="444">1.2</text>
<text class="ax" x="660" y="457">1.1</text>
<text class="ax" x="660" y="471">1.0</text>
<text class="ax" x="660" y="485">0.9</text>
<text class="ax" x="660" y="498">0.8</text>
<text class="ax" x="660" y="512">0.7</text>
<text class="mo" x="43.5" y="317">Oct</text>
<text class="mo" x="43.5" y="525">Oct</text>
<text class="yr" x="72.2" y="317">11</text>
<text class="yr" x="72.2" y="525">11</text>
<text class="mo" x="103.9" y="317">Apr</text>
<text class="mo" x="103.9" y="525">Apr</text>
<text class="mo" x="134.9" y="317">Jul</text>
<text class="mo" x="134.9" y="525">Jul</text>
<text class="mo" x="165.9" y="317">Oct</text>
<text class="mo" x="165.9" y="525">Oct</text>
<text class="yr" x="195.2" y="317">12</text>
<text class="yr" x="195.2" y="525">12</text>
<text class="mo" x="226.9" y="317">Apr</text>
<text class="mo" x="226.9" y="525">Apr</text>
<text class="mo" x="258.0" y="317">Jul</text>
<text class="mo" x="258.0" y="525">Jul</text>
<text class="mo" x="289.0" y="317">Oct</text>
<text class="mo" x="289.0" y="525">Oct</text>
<text class="yr" x="317.2" y="317">13</text>
<text class="yr" x="317.2" y="525">13</text>
<text class="mo" x="348.0" y="317">Apr</text>
<text class="mo" x="348.0" y="525">Apr</text>
<text class="mo" x="380.0" y="317">Jul</text>
<text class="mo" x="380.0" y="525">Jul</text>
<text class="mo" x="411.0" y="317">Oct</text>
<text class="mo" x="411.0" y="525">Oct</text>
<text class="yr" x="440.2" y="317">14</text>
<text class="yr" x="440.2" y="525">14</text>
<text class="mo" x="472.0" y="317">Apr</text>
<text class="mo" x="472.0" y="525">Apr</text>
<text class="mo" x="503.0" y="317">Jul</text>
<text class="mo" x="503.0" y="525">Jul</text>
<text class="mo" x="534.0" y="317">Oct</text>
<text class="mo" x="534.0" y="525">Oct</text>
<text class="yr" x="563.2" y="317">15</text>
<text class="yr" x="563.2" y="525">15</text>
<text class="mo" x="595.0" y="317">Apr</text>
<text class="mo" x="595.0" y="525">Apr</text>
<text class="mo" x="626.0" y="317">Jul</text>
<text class="mo" x="626.0" y="525">Jul</text>
<rect x="40" y="35" width="9" height="2" fill="#000"/>
<text class="lg" x="52.5" y="39.6" textLength="117" lengthAdjust="spacing">$SPX (Daily) 1958.03</text>
<rect x="40" y="45" width="9" height="2" fill="#000"/>
<text class="ax2" x="51.2" y="49.6" textLength="49.3" lengthAdjust="spacing">GLD 109.21</text>
<rect x="40" y="326.4" width="9" height="2" fill="#000"/>
<text class="lg" x="53" y="331.0" textLength="91" lengthAdjust="spacing">$SPXA50R 23.40</text>
<rect x="40" y="423" width="9" height="2" fill="#000"/>
<text class="lg" x="53" y="427.6" textLength="86" lengthAdjust="spacing">$VIX:$VXV 0.96</text>
<path d="M654.5,80L659,74.5H699V85.5H659Z" fill="#fff" stroke="#000" stroke-width="1"/>
<text class="vl" x="660.5" y="83.9" textLength="36.5" lengthAdjust="spacingAndGlyphs">1958.03</text>
<path d="M654.5,281L659,275.5H694V286.5H659Z" fill="#fff" stroke="#000" stroke-width="1"/>
<text class="vl" x="660.5" y="284.9" textLength="31.5" lengthAdjust="spacingAndGlyphs">109.21</text>
<path d="M654.5,390.3L659,384.8H688V395.8H659Z" fill="#fff" stroke="#000" stroke-width="1"/>
<text class="vl" x="660.5" y="394.2" textLength="25.5" lengthAdjust="spacingAndGlyphs">23.40</text>
<path d="M654.5,473.2L659,467.7H682V478.7H659Z" fill="#fff" stroke="#000" stroke-width="1"/>
<text class="vl" x="660.5" y="477.1" textLength="19.5" lengthAdjust="spacingAndGlyphs">0.96</text>
<text x="37.8" y="14.6" style="font-size:13.5px;font-weight:bold" textLength="33.2" lengthAdjust="spacingAndGlyphs">$SPX</text>
<text x="75.3" y="14.3" style="font-size:11.5px" textLength="122.3" lengthAdjust="spacing">S&amp;P 500 Large Cap Index</text>
<text x="202.3" y="14.3" style="font-size:8.6px" textLength="23.3" lengthAdjust="spacing">INDX</text>
<text x="567" y="13.6" style="font-size:10.4px;fill:#444;stroke:#444;stroke-width:.25px" textLength="89" lengthAdjust="spacing">©&#160;StockCharts.com</text>
<text class="hn" x="38.2" y="27" textLength="59.1" lengthAdjust="spacing">18-Sep-2015</text>
<text class="hb" x="174.3" y="27" textLength="28.0" lengthAdjust="spacing">Open</text>
<text class="hn" x="207.1" y="27" textLength="36.6" lengthAdjust="spacing">1989.66</text>
<text class="hb" x="250.9" y="27" textLength="22.8" lengthAdjust="spacing">High</text>
<text class="hn" x="279.1" y="27" textLength="36.6" lengthAdjust="spacing">1989.66</text>
<text class="hb" x="322.9" y="27" textLength="22.8" lengthAdjust="spacing">Low</text>
<text class="hn" x="351" y="27" textLength="37.1" lengthAdjust="spacing">1953.45</text>
<text class="hb" x="395" y="27" textLength="30.5" lengthAdjust="spacing">Close</text>
<text class="hn" x="431.1" y="27" textLength="37.1" lengthAdjust="spacing">1958.03</text>
<text class="hb" x="475.1" y="27" textLength="41.5" lengthAdjust="spacing">Volume</text>
<text class="hn" x="520.7" y="27" textLength="21.4" lengthAdjust="spacing">4.1B</text>
<text class="hb" x="549.1" y="27" textLength="20.6" lengthAdjust="spacing">Chg</text>
<text class="hn" x="574.3" y="27" textLength="72.4" lengthAdjust="spacing">-32.17 (-1.62%)</text>
</g>
<path d="M649.3,22L656,22L652.65,25.8Z" fill="#a8102a"/>
</svg></body></html>
